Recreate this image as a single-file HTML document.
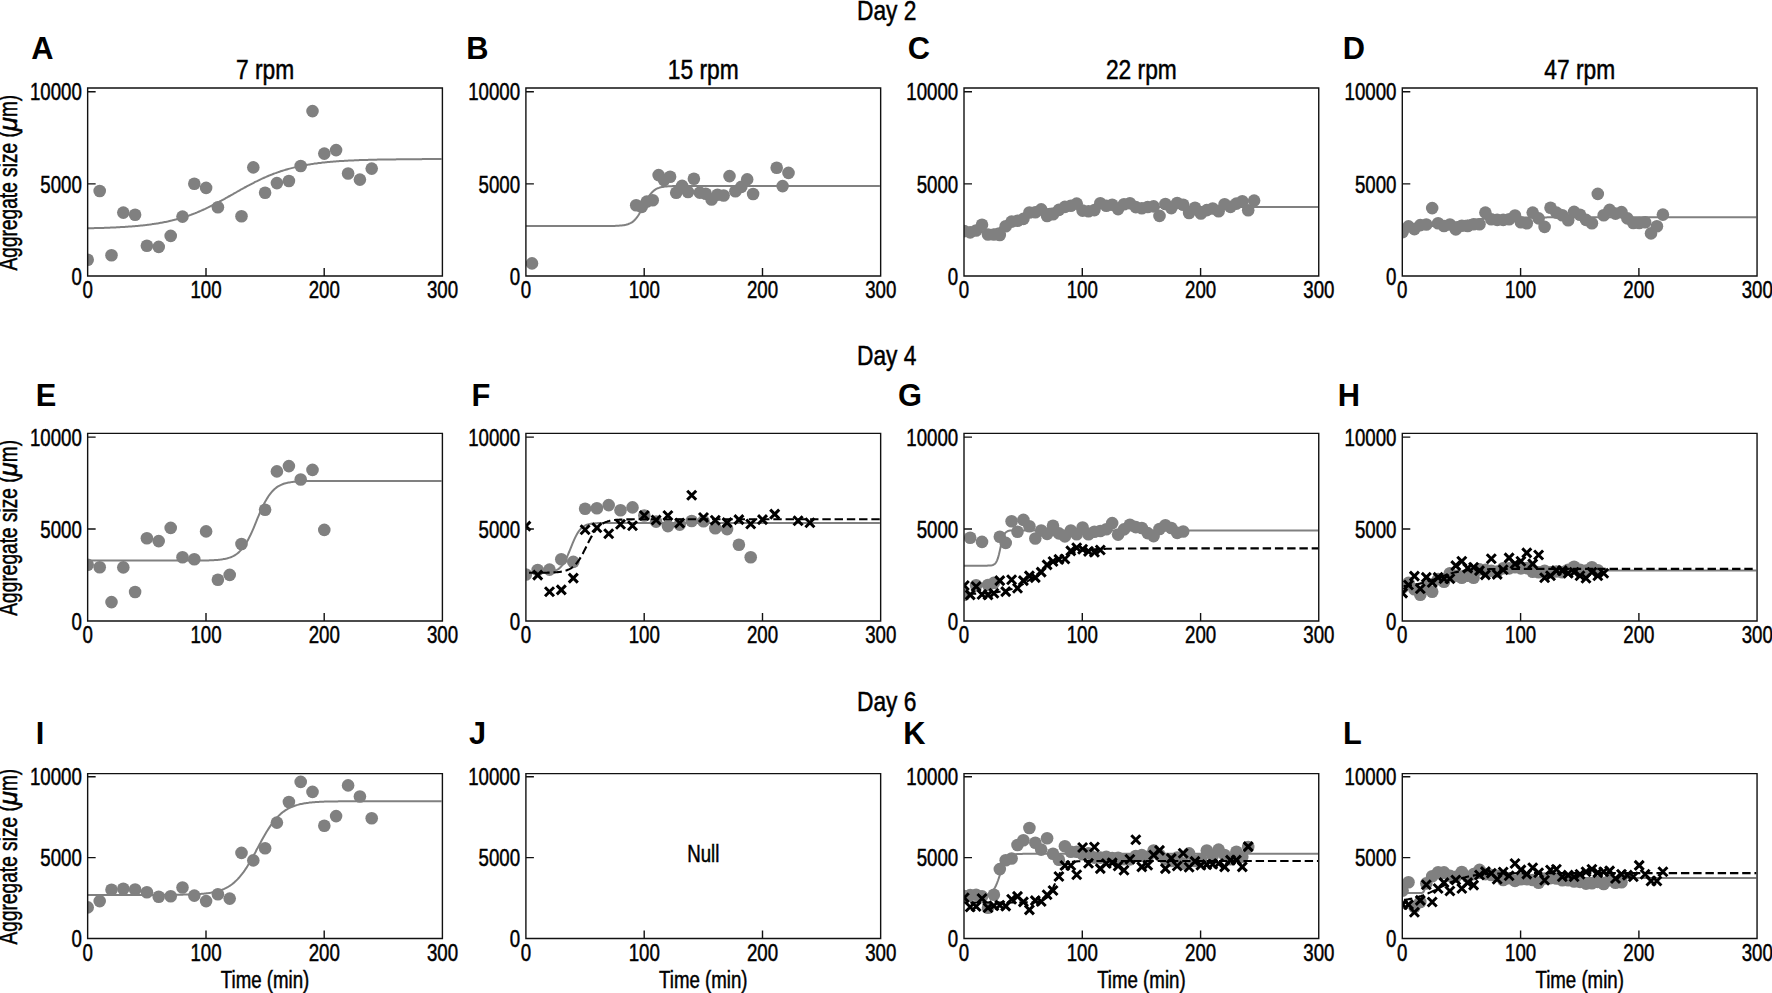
<!DOCTYPE html>
<html lang="en"><head><meta charset="utf-8"><title>Aggregate size vs time</title>
<style>html,body{margin:0;padding:0;background:#fff}svg{display:block}</style></head>
<body>
<svg width="1772" height="993" viewBox="0 0 1772 993" font-family='"Liberation Sans", sans-serif' fill="#000">
<rect width="1772" height="993" fill="#fff"/>
<defs>
<clipPath id="cA"><rect x="87.65" y="88.0" width="354.75" height="188.0"/></clipPath>
<clipPath id="cB"><rect x="525.9" y="88.0" width="354.75" height="188.0"/></clipPath>
<clipPath id="cC"><rect x="964.0" y="88.0" width="354.75" height="188.0"/></clipPath>
<clipPath id="cD"><rect x="1402.3" y="88.0" width="354.75" height="188.0"/></clipPath>
<clipPath id="cE"><rect x="87.65" y="433.4" width="354.75" height="187.6"/></clipPath>
<clipPath id="cF"><rect x="525.9" y="433.4" width="354.75" height="187.6"/></clipPath>
<clipPath id="cG"><rect x="964.0" y="433.4" width="354.75" height="187.6"/></clipPath>
<clipPath id="cH"><rect x="1402.3" y="433.4" width="354.75" height="187.6"/></clipPath>
<clipPath id="cI"><rect x="87.65" y="773.6" width="354.75" height="164.9"/></clipPath>
<clipPath id="cJ"><rect x="525.9" y="773.6" width="354.75" height="164.9"/></clipPath>
<clipPath id="cK"><rect x="964.0" y="773.6" width="354.75" height="164.9"/></clipPath>
<clipPath id="cL"><rect x="1402.3" y="773.6" width="354.75" height="164.9"/></clipPath>
<path id="xm" d="M-4.5 -4.5L4.5 4.5M-4.5 4.5L4.5 -4.5" stroke="#000" stroke-width="3" fill="none"/>
</defs>
<text transform="translate(886.70 19.80) scale(0.805 1)" font-size="28.3" text-anchor="middle" stroke="#000" stroke-width="0.5">Day 2</text>
<text transform="translate(886.70 365.20) scale(0.805 1)" font-size="28.3" text-anchor="middle" stroke="#000" stroke-width="0.5">Day 4</text>
<text transform="translate(886.70 710.50) scale(0.805 1)" font-size="28.3" text-anchor="middle" stroke="#000" stroke-width="0.5">Day 6</text>
<text transform="translate(265.02 78.50) scale(0.805 1)" font-size="28.3" text-anchor="middle" stroke="#000" stroke-width="0.5">7 rpm</text>
<text transform="translate(703.27 78.50) scale(0.805 1)" font-size="28.3" text-anchor="middle" stroke="#000" stroke-width="0.5">15 rpm</text>
<text transform="translate(1141.38 78.50) scale(0.805 1)" font-size="28.3" text-anchor="middle" stroke="#000" stroke-width="0.5">22 rpm</text>
<text transform="translate(1579.67 78.50) scale(0.805 1)" font-size="28.3" text-anchor="middle" stroke="#000" stroke-width="0.5">47 rpm</text>
<g id="pA">
<g clip-path="url(#cA)">
<path d="M87.7 228.3 L88.7 228.3 L89.7 228.2 L90.7 228.2 L91.7 228.2 L92.7 228.2 L93.7 228.2 L94.7 228.1 L95.7 228.1 L96.7 228.1 L97.7 228.1 L98.7 228.0 L99.7 228.0 L100.7 228.0 L101.7 227.9 L102.7 227.9 L103.7 227.9 L104.7 227.8 L105.7 227.8 L106.7 227.8 L107.7 227.7 L108.7 227.7 L109.7 227.7 L110.7 227.6 L111.7 227.6 L112.7 227.5 L113.7 227.5 L114.7 227.4 L115.7 227.4 L116.7 227.3 L117.7 227.3 L118.7 227.2 L119.7 227.2 L120.7 227.1 L121.7 227.1 L122.7 227.0 L123.7 227.0 L124.7 226.9 L125.7 226.8 L126.7 226.8 L127.7 226.7 L128.7 226.6 L129.7 226.6 L130.7 226.5 L131.7 226.4 L132.7 226.3 L133.7 226.2 L134.7 226.2 L135.7 226.1 L136.7 226.0 L137.7 225.9 L138.7 225.8 L139.7 225.7 L140.7 225.6 L141.7 225.5 L142.7 225.4 L143.7 225.3 L144.7 225.2 L145.7 225.1 L146.7 224.9 L147.7 224.8 L148.7 224.7 L149.7 224.6 L150.7 224.4 L151.7 224.3 L152.7 224.1 L153.7 224.0 L154.7 223.8 L155.7 223.7 L156.7 223.5 L157.7 223.4 L158.7 223.2 L159.7 223.0 L160.7 222.8 L161.7 222.7 L162.7 222.5 L163.7 222.3 L164.7 222.1 L165.7 221.9 L166.7 221.7 L167.7 221.5 L168.7 221.2 L169.7 221.0 L170.7 220.8 L171.7 220.6 L172.7 220.3 L173.7 220.1 L174.7 219.8 L175.7 219.6 L176.7 219.3 L177.7 219.0 L178.7 218.7 L179.7 218.5 L180.7 218.2 L181.7 217.9 L182.7 217.6 L183.7 217.2 L184.7 216.9 L185.7 216.6 L186.7 216.3 L187.7 215.9 L188.7 215.6 L189.7 215.2 L190.7 214.9 L191.7 214.5 L192.7 214.1 L193.7 213.7 L194.7 213.4 L195.7 213.0 L196.7 212.6 L197.7 212.1 L198.7 211.7 L199.7 211.3 L200.7 210.9 L201.7 210.4 L202.7 210.0 L203.7 209.5 L204.7 209.1 L205.7 208.6 L206.7 208.1 L207.7 207.7 L208.7 207.2 L209.7 206.7 L210.7 206.2 L211.7 205.7 L212.7 205.2 L213.7 204.7 L214.7 204.2 L215.7 203.6 L216.7 203.1 L217.7 202.6 L218.7 202.1 L219.7 201.5 L220.7 201.0 L221.7 200.4 L222.7 199.9 L223.7 199.3 L224.7 198.8 L225.7 198.2 L226.7 197.7 L227.7 197.1 L228.7 196.5 L229.7 196.0 L230.7 195.4 L231.7 194.8 L232.7 194.3 L233.7 193.7 L234.7 193.1 L235.7 192.6 L236.7 192.0 L237.7 191.4 L238.7 190.9 L239.7 190.3 L240.7 189.7 L241.7 189.2 L242.7 188.6 L243.7 188.1 L244.7 187.5 L245.7 187.0 L246.7 186.4 L247.7 185.9 L248.7 185.4 L249.7 184.8 L250.7 184.3 L251.7 183.8 L252.7 183.3 L253.7 182.8 L254.7 182.2 L255.7 181.7 L256.6 181.3 L257.6 180.8 L258.6 180.3 L259.6 179.8 L260.6 179.3 L261.6 178.9 L262.6 178.4 L263.6 178.0 L264.6 177.5 L265.6 177.1 L266.6 176.6 L267.6 176.2 L268.6 175.8 L269.6 175.4 L270.6 175.0 L271.6 174.6 L272.6 174.2 L273.6 173.8 L274.6 173.4 L275.6 173.1 L276.6 172.7 L277.6 172.4 L278.6 172.0 L279.6 171.7 L280.6 171.3 L281.6 171.0 L282.6 170.7 L283.6 170.4 L284.6 170.1 L285.6 169.8 L286.6 169.5 L287.6 169.2 L288.6 168.9 L289.6 168.6 L290.6 168.4 L291.6 168.1 L292.6 167.9 L293.6 167.6 L294.6 167.4 L295.6 167.1 L296.6 166.9 L297.6 166.7 L298.6 166.5 L299.6 166.2 L300.6 166.0 L301.6 165.8 L302.6 165.6 L303.6 165.4 L304.6 165.3 L305.6 165.1 L306.6 164.9 L307.6 164.7 L308.6 164.6 L309.6 164.4 L310.6 164.2 L311.6 164.1 L312.6 163.9 L313.6 163.8 L314.6 163.6 L315.6 163.5 L316.6 163.4 L317.6 163.2 L318.6 163.1 L319.6 163.0 L320.6 162.9 L321.6 162.7 L322.6 162.6 L323.6 162.5 L324.6 162.4 L325.6 162.3 L326.6 162.2 L327.6 162.1 L328.6 162.0 L329.6 161.9 L330.6 161.8 L331.6 161.7 L332.6 161.7 L333.6 161.6 L334.6 161.5 L335.6 161.4 L336.6 161.3 L337.6 161.3 L338.6 161.2 L339.6 161.1 L340.6 161.1 L341.6 161.0 L342.6 160.9 L343.6 160.9 L344.6 160.8 L345.6 160.8 L346.6 160.7 L347.6 160.7 L348.6 160.6 L349.6 160.6 L350.6 160.5 L351.6 160.5 L352.6 160.4 L353.6 160.4 L354.6 160.3 L355.6 160.3 L356.6 160.2 L357.6 160.2 L358.6 160.2 L359.6 160.1 L360.6 160.1 L361.6 160.1 L362.6 160.0 L363.6 160.0 L364.6 160.0 L365.6 159.9 L366.6 159.9 L367.6 159.9 L368.6 159.8 L369.6 159.8 L370.6 159.8 L371.6 159.8 L372.6 159.7 L373.6 159.7 L374.6 159.7 L375.6 159.7 L376.6 159.7 L377.6 159.6 L378.6 159.6 L379.6 159.6 L380.6 159.6 L381.6 159.6 L382.6 159.5 L383.6 159.5 L384.6 159.5 L385.6 159.5 L386.6 159.5 L387.6 159.5 L388.6 159.4 L389.6 159.4 L390.6 159.4 L391.6 159.4 L392.6 159.4 L393.6 159.4 L394.6 159.4 L395.6 159.4 L396.6 159.3 L397.6 159.3 L398.6 159.3 L399.6 159.3 L400.6 159.3 L401.6 159.3 L402.6 159.3 L403.6 159.3 L404.6 159.3 L405.6 159.3 L406.6 159.2 L407.6 159.2 L408.6 159.2 L409.6 159.2 L410.6 159.2 L411.6 159.2 L412.6 159.2 L413.6 159.2 L414.6 159.2 L415.6 159.2 L416.6 159.2 L417.6 159.2 L418.6 159.2 L419.6 159.2 L420.6 159.2 L421.6 159.2 L422.6 159.1 L423.6 159.1 L424.6 159.1 L425.6 159.1 L426.6 159.1 L427.6 159.1 L428.6 159.1 L429.6 159.1 L430.6 159.1 L431.6 159.1 L432.6 159.1 L433.6 159.1 L434.6 159.1 L435.6 159.1 L436.6 159.1 L437.6 159.1 L438.6 159.1 L439.6 159.1 L440.6 159.1 L441.6 159.1" fill="none" stroke="#808080" stroke-width="2"/>
<g fill="#808080"><circle cx="87.7" cy="259.7" r="6.3"/><circle cx="99.7" cy="191.0" r="6.3"/><circle cx="111.5" cy="255.3" r="6.3"/><circle cx="123.3" cy="212.6" r="6.3"/><circle cx="135.1" cy="214.8" r="6.3"/><circle cx="146.9" cy="245.7" r="6.3"/><circle cx="158.7" cy="246.9" r="6.3"/><circle cx="170.7" cy="235.9" r="6.3"/><circle cx="182.5" cy="216.6" r="6.3"/><circle cx="194.3" cy="183.7" r="6.3"/><circle cx="206.1" cy="187.9" r="6.3"/><circle cx="217.9" cy="207.3" r="6.3"/><circle cx="241.5" cy="216.2" r="6.3"/><circle cx="253.3" cy="167.4" r="6.3"/><circle cx="265.1" cy="192.8" r="6.3"/><circle cx="276.9" cy="183.1" r="6.3"/><circle cx="288.9" cy="181.0" r="6.3"/><circle cx="300.7" cy="166.0" r="6.3"/><circle cx="312.5" cy="111.1" r="6.3"/><circle cx="324.3" cy="153.6" r="6.3"/><circle cx="336.1" cy="150.1" r="6.3"/><circle cx="348.1" cy="173.5" r="6.3"/><circle cx="359.9" cy="179.6" r="6.3"/><circle cx="371.7" cy="168.6" r="6.3"/></g>
</g>
<path d="M87.65 88.0H442.4V276.0H87.65ZM87.65 91.8h8.0M87.65 183.9h8.0M206.0 276.0v-8.0M324.2 276.0v-8.0" fill="none" stroke="#111" stroke-width="1.4"/>
<text transform="translate(87.65 298.10) scale(0.765 1)" font-size="24.4" text-anchor="middle" stroke="#000" stroke-width="0.5">0</text>
<text transform="translate(205.95 298.10) scale(0.765 1)" font-size="24.4" text-anchor="middle" stroke="#000" stroke-width="0.5">100</text>
<text transform="translate(324.25 298.10) scale(0.765 1)" font-size="24.4" text-anchor="middle" stroke="#000" stroke-width="0.5">200</text>
<text transform="translate(442.55 298.10) scale(0.765 1)" font-size="24.4" text-anchor="middle" stroke="#000" stroke-width="0.5">300</text>
<text transform="translate(81.85 284.60) scale(0.765 1)" font-size="24.4" text-anchor="end" stroke="#000" stroke-width="0.5">0</text>
<text transform="translate(81.85 192.53) scale(0.765 1)" font-size="24.4" text-anchor="end" stroke="#000" stroke-width="0.5">5000</text>
<text transform="translate(81.85 100.45) scale(0.765 1)" font-size="24.4" text-anchor="end" stroke="#000" stroke-width="0.5">10000</text>
<text x="31.20" y="58.8" font-size="30.8" font-weight="bold">A</text>
<text transform="translate(17.4 182.6) rotate(-90) scale(0.765 1)" font-size="25.0" text-anchor="middle" stroke="#000" stroke-width="0.5">Aggregate size (<tspan font-style="italic" textLength="18.5" lengthAdjust="spacingAndGlyphs">μ</tspan>m)</text>
</g>
<g id="pB">
<g clip-path="url(#cB)">
<path d="M525.9 226.0 L526.9 226.0 L527.9 226.0 L528.9 226.0 L529.9 226.0 L530.9 226.0 L531.9 226.0 L532.9 226.0 L533.9 226.0 L534.9 226.0 L535.9 226.0 L536.9 226.0 L537.9 226.0 L538.9 226.0 L539.9 226.0 L540.9 226.0 L541.9 226.0 L542.9 226.0 L543.9 226.0 L544.9 226.0 L545.9 226.0 L546.9 226.0 L547.9 226.0 L548.9 226.0 L549.9 226.0 L550.9 226.0 L551.9 226.0 L552.9 226.0 L553.9 226.0 L554.9 226.0 L555.9 226.0 L556.9 226.0 L557.9 226.0 L558.9 226.0 L559.9 226.0 L560.9 226.0 L561.9 226.0 L562.9 226.0 L563.9 226.0 L564.9 226.0 L565.9 226.0 L566.9 226.0 L567.9 226.0 L568.9 226.0 L569.9 226.0 L570.9 226.0 L571.9 226.0 L572.9 226.0 L573.9 226.0 L574.9 226.0 L575.9 226.0 L576.9 226.0 L577.9 226.0 L578.9 226.0 L579.9 226.0 L580.9 226.0 L581.9 226.0 L582.9 226.0 L583.9 226.0 L584.9 226.0 L585.9 226.0 L586.9 226.0 L587.9 226.0 L588.9 226.0 L589.9 226.0 L590.9 226.0 L591.9 226.0 L592.9 226.0 L593.9 226.0 L594.9 226.0 L595.9 226.0 L596.9 226.0 L597.9 226.0 L598.9 226.0 L599.9 226.0 L600.9 226.0 L601.9 226.0 L602.9 226.0 L603.9 226.0 L604.9 226.0 L605.9 226.0 L606.9 226.0 L607.9 226.0 L608.9 226.0 L609.9 225.9 L610.9 225.9 L611.9 225.9 L612.9 225.9 L613.9 225.9 L614.9 225.9 L615.9 225.8 L616.9 225.8 L617.9 225.7 L618.9 225.7 L619.9 225.6 L620.9 225.5 L621.9 225.4 L622.9 225.3 L623.9 225.2 L624.9 225.0 L625.9 224.8 L626.9 224.5 L627.9 224.2 L628.9 223.8 L629.9 223.4 L630.9 222.9 L631.9 222.3 L632.9 221.6 L633.9 220.7 L634.9 219.7 L635.9 218.6 L636.9 217.4 L637.9 216.0 L638.9 214.5 L639.9 212.8 L640.9 211.0 L641.9 209.1 L642.9 207.2 L643.9 205.2 L644.9 203.3 L645.9 201.4 L646.9 199.6 L647.9 197.9 L648.9 196.3 L649.9 194.9 L650.9 193.6 L651.9 192.5 L652.9 191.5 L653.9 190.6 L654.9 189.9 L655.9 189.2 L656.9 188.7 L657.9 188.2 L658.9 187.9 L659.9 187.5 L660.9 187.3 L661.9 187.1 L662.9 186.9 L663.9 186.7 L664.9 186.6 L665.9 186.5 L666.9 186.4 L667.9 186.3 L668.9 186.3 L669.9 186.2 L670.9 186.2 L671.9 186.2 L672.9 186.1 L673.9 186.1 L674.9 186.1 L675.9 186.1 L676.9 186.1 L677.9 186.0 L678.9 186.0 L679.9 186.0 L680.9 186.0 L681.9 186.0 L682.9 186.0 L683.9 186.0 L684.9 186.0 L685.9 186.0 L686.9 186.0 L687.9 186.0 L688.9 186.0 L689.9 186.0 L690.9 186.0 L691.9 186.0 L692.9 186.0 L693.9 186.0 L694.9 186.0 L695.9 186.0 L696.9 186.0 L697.9 186.0 L698.9 186.0 L699.9 186.0 L700.9 186.0 L701.9 186.0 L702.9 186.0 L703.9 186.0 L704.9 186.0 L705.9 186.0 L706.9 186.0 L707.9 186.0 L708.9 186.0 L709.9 186.0 L710.9 186.0 L711.9 186.0 L712.9 186.0 L713.9 186.0 L714.9 186.0 L715.9 186.0 L716.9 186.0 L717.9 186.0 L718.9 186.0 L719.9 186.0 L720.9 186.0 L721.9 186.0 L722.9 186.0 L723.9 186.0 L724.9 186.0 L725.9 186.0 L726.9 186.0 L727.9 186.0 L728.9 186.0 L729.9 186.0 L730.9 186.0 L731.9 186.0 L732.9 186.0 L733.9 186.0 L734.9 186.0 L735.9 186.0 L736.9 186.0 L737.9 186.0 L738.9 186.0 L739.9 186.0 L740.9 186.0 L741.9 186.0 L742.9 186.0 L743.9 186.0 L744.9 186.0 L745.9 186.0 L746.9 186.0 L747.9 186.0 L748.9 186.0 L749.9 186.0 L750.9 186.0 L751.9 186.0 L752.9 186.0 L753.9 186.0 L754.9 186.0 L755.9 186.0 L756.9 186.0 L757.9 186.0 L758.9 186.0 L759.9 186.0 L760.9 186.0 L761.9 186.0 L762.9 186.0 L763.9 186.0 L764.9 186.0 L765.9 186.0 L766.9 186.0 L767.9 186.0 L768.9 186.0 L769.9 186.0 L770.9 186.0 L771.9 186.0 L772.9 186.0 L773.9 186.0 L774.9 186.0 L775.9 186.0 L776.9 186.0 L777.9 186.0 L778.9 186.0 L779.9 186.0 L780.9 186.0 L781.9 186.0 L782.9 186.0 L783.9 186.0 L784.9 186.0 L785.9 186.0 L786.9 186.0 L787.9 186.0 L788.9 186.0 L789.9 186.0 L790.9 186.0 L791.9 186.0 L792.9 186.0 L793.9 186.0 L794.9 186.0 L795.9 186.0 L796.9 186.0 L797.9 186.0 L798.9 186.0 L799.9 186.0 L800.9 186.0 L801.9 186.0 L802.9 186.0 L803.9 186.0 L804.9 186.0 L805.9 186.0 L806.9 186.0 L807.9 186.0 L808.9 186.0 L809.9 186.0 L810.9 186.0 L811.9 186.0 L812.9 186.0 L813.9 186.0 L814.9 186.0 L815.9 186.0 L816.9 186.0 L817.9 186.0 L818.9 186.0 L819.9 186.0 L820.9 186.0 L821.9 186.0 L822.9 186.0 L823.9 186.0 L824.9 186.0 L825.9 186.0 L826.9 186.0 L827.9 186.0 L828.9 186.0 L829.9 186.0 L830.9 186.0 L831.9 186.0 L832.9 186.0 L833.9 186.0 L834.9 186.0 L835.9 186.0 L836.9 186.0 L837.9 186.0 L838.9 186.0 L839.9 186.0 L840.9 186.0 L841.9 186.0 L842.9 186.0 L843.9 186.0 L844.9 186.0 L845.9 186.0 L846.9 186.0 L847.9 186.0 L848.9 186.0 L849.9 186.0 L850.9 186.0 L851.9 186.0 L852.9 186.0 L853.9 186.0 L854.9 186.0 L855.9 186.0 L856.9 186.0 L857.9 186.0 L858.9 186.0 L859.9 186.0 L860.9 186.0 L861.9 186.0 L862.9 186.0 L863.9 186.0 L864.9 186.0 L865.9 186.0 L866.9 186.0 L867.9 186.0 L868.9 186.0 L869.9 186.0 L870.9 186.0 L871.9 186.0 L872.9 186.0 L873.9 186.0 L874.9 186.0 L875.9 186.0 L876.9 186.0 L877.9 186.0 L878.9 186.0 L879.9 186.0" fill="none" stroke="#808080" stroke-width="2"/>
<g fill="#808080"><circle cx="532.0" cy="263.4" r="6.3"/><circle cx="636.2" cy="205.2" r="6.3"/><circle cx="641.7" cy="206.9" r="6.3"/><circle cx="646.8" cy="201.6" r="6.3"/><circle cx="652.7" cy="200.3" r="6.3"/><circle cx="658.6" cy="175.1" r="6.3"/><circle cx="664.0" cy="180.0" r="6.3"/><circle cx="670.1" cy="176.8" r="6.3"/><circle cx="676.2" cy="192.8" r="6.3"/><circle cx="682.1" cy="185.9" r="6.3"/><circle cx="688.0" cy="192.0" r="6.3"/><circle cx="693.9" cy="178.8" r="6.3"/><circle cx="699.8" cy="192.6" r="6.3"/><circle cx="705.7" cy="193.8" r="6.3"/><circle cx="711.6" cy="199.5" r="6.3"/><circle cx="717.5" cy="194.7" r="6.3"/><circle cx="723.6" cy="195.5" r="6.3"/><circle cx="729.5" cy="176.1" r="6.3"/><circle cx="735.4" cy="191.2" r="6.3"/><circle cx="741.3" cy="186.9" r="6.3"/><circle cx="747.2" cy="179.4" r="6.3"/><circle cx="753.1" cy="194.0" r="6.3"/><circle cx="776.7" cy="167.8" r="6.3"/><circle cx="782.6" cy="186.1" r="6.3"/><circle cx="788.5" cy="172.9" r="6.3"/></g>
</g>
<path d="M525.9 88.0H880.65V276.0H525.9ZM525.9 91.8h8.0M525.9 183.9h8.0M644.2 276.0v-8.0M762.5 276.0v-8.0" fill="none" stroke="#111" stroke-width="1.4"/>
<text transform="translate(525.90 298.10) scale(0.765 1)" font-size="24.4" text-anchor="middle" stroke="#000" stroke-width="0.5">0</text>
<text transform="translate(644.20 298.10) scale(0.765 1)" font-size="24.4" text-anchor="middle" stroke="#000" stroke-width="0.5">100</text>
<text transform="translate(762.50 298.10) scale(0.765 1)" font-size="24.4" text-anchor="middle" stroke="#000" stroke-width="0.5">200</text>
<text transform="translate(880.80 298.10) scale(0.765 1)" font-size="24.4" text-anchor="middle" stroke="#000" stroke-width="0.5">300</text>
<text transform="translate(520.10 284.60) scale(0.765 1)" font-size="24.4" text-anchor="end" stroke="#000" stroke-width="0.5">0</text>
<text transform="translate(520.10 192.53) scale(0.765 1)" font-size="24.4" text-anchor="end" stroke="#000" stroke-width="0.5">5000</text>
<text transform="translate(520.10 100.45) scale(0.765 1)" font-size="24.4" text-anchor="end" stroke="#000" stroke-width="0.5">10000</text>
<text x="466.25" y="58.8" font-size="30.8" font-weight="bold">B</text>
</g>
<g id="pC">
<g clip-path="url(#cC)">
<path d="M964.0 233.1 L965.0 233.0 L966.0 233.0 L967.0 232.9 L968.0 232.9 L969.0 232.9 L970.0 232.8 L971.0 232.7 L972.0 232.7 L973.0 232.6 L974.0 232.6 L975.0 232.5 L976.0 232.4 L977.0 232.3 L978.0 232.2 L979.0 232.1 L980.0 232.0 L981.0 231.9 L982.0 231.8 L983.0 231.7 L984.0 231.6 L985.0 231.4 L986.0 231.3 L987.0 231.1 L988.0 230.9 L989.0 230.7 L990.0 230.5 L991.0 230.3 L992.0 230.1 L993.0 229.9 L994.0 229.6 L995.0 229.4 L996.0 229.1 L997.0 228.8 L998.0 228.5 L999.0 228.2 L1000.0 227.8 L1001.0 227.5 L1002.0 227.1 L1003.0 226.7 L1004.0 226.3 L1005.0 225.9 L1006.0 225.5 L1007.0 225.1 L1008.0 224.6 L1009.0 224.2 L1010.0 223.7 L1011.0 223.2 L1012.0 222.7 L1013.0 222.2 L1014.0 221.7 L1015.0 221.2 L1016.0 220.7 L1017.0 220.2 L1018.0 219.7 L1019.0 219.2 L1020.0 218.7 L1021.0 218.2 L1022.0 217.7 L1023.0 217.2 L1024.0 216.7 L1025.0 216.2 L1026.0 215.8 L1027.0 215.3 L1028.0 214.9 L1029.0 214.5 L1030.0 214.1 L1031.0 213.7 L1032.0 213.3 L1033.0 212.9 L1034.0 212.6 L1035.0 212.2 L1036.0 211.9 L1037.0 211.6 L1038.0 211.3 L1039.0 211.0 L1040.0 210.8 L1041.0 210.5 L1042.0 210.3 L1043.0 210.1 L1044.0 209.9 L1045.0 209.7 L1046.0 209.5 L1047.0 209.3 L1048.0 209.1 L1049.0 209.0 L1050.0 208.8 L1051.0 208.7 L1052.0 208.6 L1053.0 208.5 L1054.0 208.4 L1055.0 208.3 L1056.0 208.2 L1057.0 208.1 L1058.0 208.0 L1059.0 207.9 L1060.0 207.8 L1061.0 207.8 L1062.0 207.7 L1063.0 207.7 L1064.0 207.6 L1065.0 207.5 L1066.0 207.5 L1067.0 207.5 L1068.0 207.4 L1069.0 207.4 L1070.0 207.3 L1071.0 207.3 L1072.0 207.3 L1073.0 207.3 L1074.0 207.2 L1075.0 207.2 L1076.0 207.2 L1077.0 207.2 L1078.0 207.1 L1079.0 207.1 L1080.0 207.1 L1081.0 207.1 L1082.0 207.1 L1083.0 207.1 L1084.0 207.1 L1085.0 207.0 L1086.0 207.0 L1087.0 207.0 L1088.0 207.0 L1089.0 207.0 L1090.0 207.0 L1091.0 207.0 L1092.0 207.0 L1093.0 207.0 L1094.0 207.0 L1095.0 207.0 L1096.0 207.0 L1097.0 207.0 L1098.0 207.0 L1099.0 206.9 L1100.0 206.9 L1101.0 206.9 L1102.0 206.9 L1103.0 206.9 L1104.0 206.9 L1105.0 206.9 L1106.0 206.9 L1107.0 206.9 L1108.0 206.9 L1109.0 206.9 L1110.0 206.9 L1111.0 206.9 L1112.0 206.9 L1113.0 206.9 L1114.0 206.9 L1115.0 206.9 L1116.0 206.9 L1117.0 206.9 L1118.0 206.9 L1119.0 206.9 L1120.0 206.9 L1121.0 206.9 L1122.0 206.9 L1123.0 206.9 L1124.0 206.9 L1125.0 206.9 L1126.0 206.9 L1127.0 206.9 L1128.0 206.9 L1129.0 206.9 L1130.0 206.9 L1131.0 206.9 L1132.0 206.9 L1133.0 206.9 L1134.0 206.9 L1135.0 206.9 L1136.0 206.9 L1137.0 206.9 L1138.0 206.9 L1139.0 206.9 L1140.0 206.9 L1141.0 206.9 L1142.0 206.9 L1143.0 206.9 L1144.0 206.9 L1145.0 206.9 L1146.0 206.9 L1147.0 206.9 L1148.0 206.9 L1149.0 206.9 L1150.0 206.9 L1151.0 206.9 L1152.0 206.9 L1153.0 206.9 L1154.0 206.9 L1155.0 206.9 L1156.0 206.9 L1157.0 206.9 L1158.0 206.9 L1159.0 206.9 L1160.0 206.9 L1161.0 206.9 L1162.0 206.9 L1163.0 206.9 L1164.0 206.9 L1165.0 206.9 L1166.0 206.9 L1167.0 206.9 L1168.0 206.9 L1169.0 206.9 L1170.0 206.9 L1171.0 206.9 L1172.0 206.9 L1173.0 206.9 L1174.0 206.9 L1175.0 206.9 L1176.0 206.9 L1177.0 206.9 L1178.0 206.9 L1179.0 206.9 L1180.0 206.9 L1181.0 206.9 L1182.0 206.9 L1183.0 206.9 L1184.0 206.9 L1185.0 206.9 L1186.0 206.9 L1187.0 206.9 L1188.0 206.9 L1189.0 206.9 L1190.0 206.9 L1191.0 206.9 L1192.0 206.9 L1193.0 206.9 L1194.0 206.9 L1195.0 206.9 L1196.0 206.9 L1197.0 206.9 L1198.0 206.9 L1199.0 206.9 L1200.0 206.9 L1201.0 206.9 L1202.0 206.9 L1203.0 206.9 L1204.0 206.9 L1205.0 206.9 L1206.0 206.9 L1207.0 206.9 L1208.0 206.9 L1209.0 206.9 L1210.0 206.9 L1211.0 206.9 L1212.0 206.9 L1213.0 206.9 L1214.0 206.9 L1215.0 206.9 L1216.0 206.9 L1217.0 206.9 L1218.0 206.9 L1219.0 206.9 L1220.0 206.9 L1221.0 206.9 L1222.0 206.9 L1223.0 206.9 L1224.0 206.9 L1225.0 206.9 L1226.0 206.9 L1227.0 206.9 L1228.0 206.9 L1229.0 206.9 L1230.0 206.9 L1231.0 206.9 L1232.0 206.9 L1233.0 206.9 L1234.0 206.9 L1235.0 206.9 L1236.0 206.9 L1237.0 206.9 L1238.0 206.9 L1239.0 206.9 L1240.0 206.9 L1241.0 206.9 L1242.0 206.9 L1243.0 206.9 L1244.0 206.9 L1245.0 206.9 L1246.0 206.9 L1247.0 206.9 L1248.0 206.9 L1249.0 206.9 L1250.0 206.9 L1251.0 206.9 L1252.0 206.9 L1253.0 206.9 L1254.0 206.9 L1255.0 206.9 L1256.0 206.9 L1257.0 206.9 L1258.0 206.9 L1259.0 206.9 L1260.0 206.9 L1261.0 206.9 L1262.0 206.9 L1263.0 206.9 L1264.0 206.9 L1265.0 206.9 L1266.0 206.9 L1267.0 206.9 L1268.0 206.9 L1269.0 206.9 L1270.0 206.9 L1271.0 206.9 L1272.0 206.9 L1273.0 206.9 L1274.0 206.9 L1275.0 206.9 L1276.0 206.9 L1277.0 206.9 L1278.0 206.9 L1279.0 206.9 L1280.0 206.9 L1281.0 206.9 L1282.0 206.9 L1283.0 206.9 L1284.0 206.9 L1285.0 206.9 L1286.0 206.9 L1287.0 206.9 L1288.0 206.9 L1289.0 206.9 L1290.0 206.9 L1291.0 206.9 L1292.0 206.9 L1293.0 206.9 L1294.0 206.9 L1295.0 206.9 L1296.0 206.9 L1297.0 206.9 L1298.0 206.9 L1299.0 206.9 L1300.0 206.9 L1301.0 206.9 L1302.0 206.9 L1303.0 206.9 L1304.0 206.9 L1305.0 206.9 L1306.0 206.9 L1307.0 206.9 L1308.0 206.9 L1309.0 206.9 L1310.0 206.9 L1311.0 206.9 L1312.0 206.9 L1313.0 206.9 L1314.0 206.9 L1315.0 206.9 L1316.0 206.9 L1317.0 206.9 L1318.0 206.9" fill="none" stroke="#808080" stroke-width="2"/>
<g fill="#808080"><circle cx="964.3" cy="231.1" r="6.3"/><circle cx="970.2" cy="232.4" r="6.3"/><circle cx="976.1" cy="230.5" r="6.3"/><circle cx="982.0" cy="224.7" r="6.3"/><circle cx="988.0" cy="234.5" r="6.3"/><circle cx="993.9" cy="234.5" r="6.3"/><circle cx="999.8" cy="235.0" r="6.3"/><circle cx="1005.7" cy="226.2" r="6.3"/><circle cx="1011.6" cy="221.6" r="6.3"/><circle cx="1017.5" cy="220.7" r="6.3"/><circle cx="1023.4" cy="218.9" r="6.3"/><circle cx="1029.4" cy="212.5" r="6.3"/><circle cx="1035.3" cy="212.2" r="6.3"/><circle cx="1041.2" cy="209.4" r="6.3"/><circle cx="1047.1" cy="216.0" r="6.3"/><circle cx="1053.0" cy="214.2" r="6.3"/><circle cx="1058.9" cy="209.9" r="6.3"/><circle cx="1064.9" cy="206.9" r="6.3"/><circle cx="1070.8" cy="205.8" r="6.3"/><circle cx="1076.7" cy="203.6" r="6.3"/><circle cx="1082.6" cy="210.6" r="6.3"/><circle cx="1088.5" cy="211.3" r="6.3"/><circle cx="1094.4" cy="210.1" r="6.3"/><circle cx="1100.3" cy="203.3" r="6.3"/><circle cx="1106.3" cy="205.8" r="6.3"/><circle cx="1112.2" cy="204.8" r="6.3"/><circle cx="1118.1" cy="209.1" r="6.3"/><circle cx="1124.0" cy="204.3" r="6.3"/><circle cx="1129.9" cy="203.3" r="6.3"/><circle cx="1135.8" cy="207.1" r="6.3"/><circle cx="1141.8" cy="208.2" r="6.3"/><circle cx="1147.7" cy="207.0" r="6.3"/><circle cx="1153.6" cy="206.4" r="6.3"/><circle cx="1159.5" cy="215.9" r="6.3"/><circle cx="1165.4" cy="204.0" r="6.3"/><circle cx="1171.3" cy="208.1" r="6.3"/><circle cx="1177.2" cy="203.0" r="6.3"/><circle cx="1183.2" cy="204.8" r="6.3"/><circle cx="1189.1" cy="213.0" r="6.3"/><circle cx="1195.0" cy="207.7" r="6.3"/><circle cx="1200.9" cy="213.5" r="6.3"/><circle cx="1206.8" cy="210.1" r="6.3"/><circle cx="1212.7" cy="208.5" r="6.3"/><circle cx="1218.6" cy="211.3" r="6.3"/><circle cx="1224.6" cy="204.3" r="6.3"/><circle cx="1230.5" cy="206.9" r="6.3"/><circle cx="1236.4" cy="203.6" r="6.3"/><circle cx="1242.3" cy="201.3" r="6.3"/><circle cx="1248.2" cy="210.3" r="6.3"/><circle cx="1254.1" cy="200.6" r="6.3"/></g>
</g>
<path d="M964.0 88.0H1318.75V276.0H964.0ZM964.0 91.8h8.0M964.0 183.9h8.0M1082.3 276.0v-8.0M1200.6 276.0v-8.0" fill="none" stroke="#111" stroke-width="1.4"/>
<text transform="translate(964.00 298.10) scale(0.765 1)" font-size="24.4" text-anchor="middle" stroke="#000" stroke-width="0.5">0</text>
<text transform="translate(1082.30 298.10) scale(0.765 1)" font-size="24.4" text-anchor="middle" stroke="#000" stroke-width="0.5">100</text>
<text transform="translate(1200.60 298.10) scale(0.765 1)" font-size="24.4" text-anchor="middle" stroke="#000" stroke-width="0.5">200</text>
<text transform="translate(1318.90 298.10) scale(0.765 1)" font-size="24.4" text-anchor="middle" stroke="#000" stroke-width="0.5">300</text>
<text transform="translate(958.20 284.60) scale(0.765 1)" font-size="24.4" text-anchor="end" stroke="#000" stroke-width="0.5">0</text>
<text transform="translate(958.20 192.53) scale(0.765 1)" font-size="24.4" text-anchor="end" stroke="#000" stroke-width="0.5">5000</text>
<text transform="translate(958.20 100.45) scale(0.765 1)" font-size="24.4" text-anchor="end" stroke="#000" stroke-width="0.5">10000</text>
<text x="907.75" y="58.8" font-size="30.8" font-weight="bold">C</text>
</g>
<g id="pD">
<g clip-path="url(#cD)">
<path d="M1402.3 228.5 L1403.3 228.5 L1404.3 228.4 L1405.3 228.4 L1406.3 228.3 L1407.3 228.3 L1408.3 228.2 L1409.3 228.2 L1410.3 228.1 L1411.3 228.1 L1412.3 228.0 L1413.3 227.9 L1414.3 227.9 L1415.3 227.8 L1416.3 227.7 L1417.3 227.6 L1418.3 227.6 L1419.3 227.5 L1420.3 227.4 L1421.3 227.3 L1422.3 227.2 L1423.3 227.1 L1424.3 227.0 L1425.3 226.9 L1426.3 226.8 L1427.3 226.6 L1428.3 226.5 L1429.3 226.4 L1430.3 226.3 L1431.3 226.2 L1432.3 226.0 L1433.3 225.9 L1434.3 225.7 L1435.3 225.6 L1436.3 225.5 L1437.3 225.3 L1438.3 225.2 L1439.3 225.0 L1440.3 224.8 L1441.3 224.7 L1442.3 224.5 L1443.3 224.4 L1444.3 224.2 L1445.3 224.0 L1446.3 223.9 L1447.3 223.7 L1448.3 223.5 L1449.3 223.4 L1450.3 223.2 L1451.3 223.0 L1452.3 222.8 L1453.3 222.7 L1454.3 222.5 L1455.3 222.3 L1456.3 222.2 L1457.3 222.0 L1458.3 221.9 L1459.3 221.7 L1460.3 221.5 L1461.3 221.4 L1462.3 221.2 L1463.3 221.1 L1464.3 220.9 L1465.3 220.8 L1466.3 220.7 L1467.3 220.5 L1468.3 220.4 L1469.3 220.3 L1470.3 220.1 L1471.3 220.0 L1472.3 219.9 L1473.3 219.8 L1474.3 219.7 L1475.3 219.6 L1476.3 219.5 L1477.3 219.4 L1478.3 219.3 L1479.3 219.2 L1480.3 219.1 L1481.3 219.0 L1482.3 218.9 L1483.3 218.9 L1484.3 218.8 L1485.3 218.7 L1486.3 218.6 L1487.3 218.6 L1488.3 218.5 L1489.3 218.5 L1490.3 218.4 L1491.3 218.3 L1492.3 218.3 L1493.3 218.2 L1494.3 218.2 L1495.3 218.1 L1496.3 218.1 L1497.3 218.1 L1498.3 218.0 L1499.3 218.0 L1500.3 217.9 L1501.3 217.9 L1502.3 217.9 L1503.3 217.9 L1504.3 217.8 L1505.3 217.8 L1506.3 217.8 L1507.3 217.7 L1508.3 217.7 L1509.3 217.7 L1510.3 217.7 L1511.3 217.7 L1512.3 217.6 L1513.3 217.6 L1514.3 217.6 L1515.3 217.6 L1516.3 217.6 L1517.3 217.6 L1518.3 217.5 L1519.3 217.5 L1520.3 217.5 L1521.3 217.5 L1522.3 217.5 L1523.3 217.5 L1524.3 217.5 L1525.3 217.5 L1526.3 217.5 L1527.3 217.4 L1528.3 217.4 L1529.3 217.4 L1530.3 217.4 L1531.3 217.4 L1532.3 217.4 L1533.3 217.4 L1534.3 217.4 L1535.3 217.4 L1536.3 217.4 L1537.3 217.4 L1538.3 217.4 L1539.3 217.4 L1540.3 217.4 L1541.3 217.4 L1542.3 217.4 L1543.3 217.4 L1544.3 217.4 L1545.3 217.4 L1546.3 217.4 L1547.3 217.3 L1548.3 217.3 L1549.3 217.3 L1550.3 217.3 L1551.3 217.3 L1552.3 217.3 L1553.3 217.3 L1554.3 217.3 L1555.3 217.3 L1556.3 217.3 L1557.3 217.3 L1558.3 217.3 L1559.3 217.3 L1560.3 217.3 L1561.3 217.3 L1562.3 217.3 L1563.3 217.3 L1564.3 217.3 L1565.3 217.3 L1566.3 217.3 L1567.3 217.3 L1568.3 217.3 L1569.3 217.3 L1570.3 217.3 L1571.3 217.3 L1572.3 217.3 L1573.3 217.3 L1574.3 217.3 L1575.3 217.3 L1576.3 217.3 L1577.3 217.3 L1578.3 217.3 L1579.3 217.3 L1580.3 217.3 L1581.3 217.3 L1582.3 217.3 L1583.3 217.3 L1584.3 217.3 L1585.3 217.3 L1586.3 217.3 L1587.3 217.3 L1588.3 217.3 L1589.3 217.3 L1590.3 217.3 L1591.3 217.3 L1592.3 217.3 L1593.3 217.3 L1594.3 217.3 L1595.3 217.3 L1596.3 217.3 L1597.3 217.3 L1598.3 217.3 L1599.3 217.3 L1600.3 217.3 L1601.3 217.3 L1602.3 217.3 L1603.3 217.3 L1604.3 217.3 L1605.3 217.3 L1606.3 217.3 L1607.3 217.3 L1608.3 217.3 L1609.3 217.3 L1610.3 217.3 L1611.3 217.3 L1612.3 217.3 L1613.3 217.3 L1614.3 217.3 L1615.3 217.3 L1616.3 217.3 L1617.3 217.3 L1618.3 217.3 L1619.3 217.3 L1620.3 217.3 L1621.3 217.3 L1622.3 217.3 L1623.3 217.3 L1624.3 217.3 L1625.3 217.3 L1626.3 217.3 L1627.3 217.3 L1628.3 217.3 L1629.3 217.3 L1630.3 217.3 L1631.3 217.3 L1632.3 217.3 L1633.3 217.3 L1634.3 217.3 L1635.3 217.3 L1636.3 217.3 L1637.3 217.3 L1638.3 217.3 L1639.3 217.3 L1640.3 217.3 L1641.3 217.3 L1642.3 217.3 L1643.3 217.3 L1644.3 217.3 L1645.3 217.3 L1646.3 217.3 L1647.3 217.3 L1648.3 217.3 L1649.3 217.3 L1650.3 217.3 L1651.3 217.3 L1652.3 217.3 L1653.3 217.3 L1654.3 217.3 L1655.3 217.3 L1656.3 217.3 L1657.3 217.3 L1658.3 217.3 L1659.3 217.3 L1660.3 217.3 L1661.3 217.3 L1662.3 217.3 L1663.3 217.3 L1664.3 217.3 L1665.3 217.3 L1666.3 217.3 L1667.3 217.3 L1668.3 217.3 L1669.3 217.3 L1670.3 217.3 L1671.3 217.3 L1672.3 217.3 L1673.3 217.3 L1674.3 217.3 L1675.3 217.3 L1676.3 217.3 L1677.3 217.3 L1678.3 217.3 L1679.3 217.3 L1680.3 217.3 L1681.3 217.3 L1682.3 217.3 L1683.3 217.3 L1684.3 217.3 L1685.3 217.3 L1686.3 217.3 L1687.3 217.3 L1688.3 217.3 L1689.3 217.3 L1690.3 217.3 L1691.3 217.3 L1692.3 217.3 L1693.3 217.3 L1694.3 217.3 L1695.3 217.3 L1696.3 217.3 L1697.3 217.3 L1698.3 217.3 L1699.3 217.3 L1700.3 217.3 L1701.3 217.3 L1702.3 217.3 L1703.3 217.3 L1704.3 217.3 L1705.3 217.3 L1706.3 217.3 L1707.3 217.3 L1708.3 217.3 L1709.3 217.3 L1710.3 217.3 L1711.3 217.3 L1712.3 217.3 L1713.3 217.3 L1714.3 217.3 L1715.3 217.3 L1716.3 217.3 L1717.3 217.3 L1718.3 217.3 L1719.3 217.3 L1720.3 217.3 L1721.3 217.3 L1722.3 217.3 L1723.3 217.3 L1724.3 217.3 L1725.3 217.3 L1726.3 217.3 L1727.3 217.3 L1728.3 217.3 L1729.3 217.3 L1730.3 217.3 L1731.3 217.3 L1732.3 217.3 L1733.3 217.3 L1734.3 217.3 L1735.3 217.3 L1736.3 217.3 L1737.3 217.3 L1738.3 217.3 L1739.3 217.3 L1740.3 217.3 L1741.3 217.3 L1742.3 217.3 L1743.3 217.3 L1744.3 217.3 L1745.3 217.3 L1746.3 217.3 L1747.3 217.3 L1748.3 217.3 L1749.3 217.3 L1750.3 217.3 L1751.3 217.3 L1752.3 217.3 L1753.3 217.3 L1754.3 217.3 L1755.3 217.3 L1756.3 217.3" fill="none" stroke="#808080" stroke-width="2"/>
<g fill="#808080"><circle cx="1402.6" cy="232.1" r="6.3"/><circle cx="1408.5" cy="226.4" r="6.3"/><circle cx="1414.4" cy="229.1" r="6.3"/><circle cx="1420.3" cy="225.1" r="6.3"/><circle cx="1426.3" cy="224.5" r="6.3"/><circle cx="1432.2" cy="208.1" r="6.3"/><circle cx="1438.1" cy="223.3" r="6.3"/><circle cx="1444.0" cy="226.0" r="6.3"/><circle cx="1449.9" cy="224.5" r="6.3"/><circle cx="1455.8" cy="229.4" r="6.3"/><circle cx="1461.8" cy="225.7" r="6.3"/><circle cx="1467.7" cy="226.0" r="6.3"/><circle cx="1473.6" cy="224.3" r="6.3"/><circle cx="1479.5" cy="224.3" r="6.3"/><circle cx="1485.4" cy="212.6" r="6.3"/><circle cx="1491.3" cy="219.2" r="6.3"/><circle cx="1497.2" cy="219.9" r="6.3"/><circle cx="1503.2" cy="219.9" r="6.3"/><circle cx="1509.1" cy="219.2" r="6.3"/><circle cx="1515.0" cy="215.5" r="6.3"/><circle cx="1520.9" cy="222.3" r="6.3"/><circle cx="1526.8" cy="223.3" r="6.3"/><circle cx="1532.7" cy="212.6" r="6.3"/><circle cx="1538.6" cy="218.4" r="6.3"/><circle cx="1544.6" cy="226.9" r="6.3"/><circle cx="1550.5" cy="207.8" r="6.3"/><circle cx="1556.4" cy="212.6" r="6.3"/><circle cx="1562.3" cy="215.2" r="6.3"/><circle cx="1568.2" cy="220.3" r="6.3"/><circle cx="1574.1" cy="211.9" r="6.3"/><circle cx="1580.0" cy="214.7" r="6.3"/><circle cx="1586.0" cy="219.9" r="6.3"/><circle cx="1591.9" cy="223.3" r="6.3"/><circle cx="1597.8" cy="193.9" r="6.3"/><circle cx="1603.7" cy="215.3" r="6.3"/><circle cx="1609.6" cy="209.9" r="6.3"/><circle cx="1615.5" cy="213.6" r="6.3"/><circle cx="1621.5" cy="212.1" r="6.3"/><circle cx="1627.4" cy="218.4" r="6.3"/><circle cx="1633.3" cy="223.0" r="6.3"/><circle cx="1639.2" cy="223.0" r="6.3"/><circle cx="1645.1" cy="222.2" r="6.3"/><circle cx="1651.0" cy="233.4" r="6.3"/><circle cx="1656.9" cy="226.3" r="6.3"/><circle cx="1662.9" cy="214.6" r="6.3"/></g>
</g>
<path d="M1402.3 88.0H1757.05V276.0H1402.3ZM1402.3 91.8h8.0M1402.3 183.9h8.0M1520.6 276.0v-8.0M1638.9 276.0v-8.0" fill="none" stroke="#111" stroke-width="1.4"/>
<text transform="translate(1402.30 298.10) scale(0.765 1)" font-size="24.4" text-anchor="middle" stroke="#000" stroke-width="0.5">0</text>
<text transform="translate(1520.60 298.10) scale(0.765 1)" font-size="24.4" text-anchor="middle" stroke="#000" stroke-width="0.5">100</text>
<text transform="translate(1638.90 298.10) scale(0.765 1)" font-size="24.4" text-anchor="middle" stroke="#000" stroke-width="0.5">200</text>
<text transform="translate(1757.20 298.10) scale(0.765 1)" font-size="24.4" text-anchor="middle" stroke="#000" stroke-width="0.5">300</text>
<text transform="translate(1396.50 284.60) scale(0.765 1)" font-size="24.4" text-anchor="end" stroke="#000" stroke-width="0.5">0</text>
<text transform="translate(1396.50 192.53) scale(0.765 1)" font-size="24.4" text-anchor="end" stroke="#000" stroke-width="0.5">5000</text>
<text transform="translate(1396.50 100.45) scale(0.765 1)" font-size="24.4" text-anchor="end" stroke="#000" stroke-width="0.5">10000</text>
<text x="1342.75" y="58.8" font-size="30.8" font-weight="bold">D</text>
</g>
<g id="pE">
<g clip-path="url(#cE)">
<path d="M87.7 560.6 L88.7 560.6 L89.7 560.6 L90.7 560.6 L91.7 560.6 L92.7 560.6 L93.7 560.6 L94.7 560.6 L95.7 560.6 L96.7 560.6 L97.7 560.6 L98.7 560.6 L99.7 560.6 L100.7 560.6 L101.7 560.6 L102.7 560.6 L103.7 560.6 L104.7 560.6 L105.7 560.6 L106.7 560.6 L107.7 560.6 L108.7 560.6 L109.7 560.6 L110.7 560.6 L111.7 560.6 L112.7 560.6 L113.7 560.6 L114.7 560.6 L115.7 560.6 L116.7 560.6 L117.7 560.6 L118.7 560.6 L119.7 560.6 L120.7 560.6 L121.7 560.6 L122.7 560.6 L123.7 560.6 L124.7 560.6 L125.7 560.6 L126.7 560.6 L127.7 560.6 L128.7 560.6 L129.7 560.6 L130.7 560.6 L131.7 560.6 L132.7 560.6 L133.7 560.6 L134.7 560.6 L135.7 560.6 L136.7 560.6 L137.7 560.6 L138.7 560.6 L139.7 560.6 L140.7 560.6 L141.7 560.6 L142.7 560.6 L143.7 560.6 L144.7 560.6 L145.7 560.6 L146.7 560.6 L147.7 560.6 L148.7 560.6 L149.7 560.6 L150.7 560.6 L151.7 560.6 L152.7 560.6 L153.7 560.6 L154.7 560.6 L155.7 560.6 L156.7 560.6 L157.7 560.6 L158.7 560.6 L159.7 560.6 L160.7 560.6 L161.7 560.6 L162.7 560.6 L163.7 560.6 L164.7 560.6 L165.7 560.6 L166.7 560.6 L167.7 560.6 L168.7 560.6 L169.7 560.6 L170.7 560.6 L171.7 560.6 L172.7 560.6 L173.7 560.6 L174.7 560.6 L175.7 560.6 L176.7 560.6 L177.7 560.6 L178.7 560.6 L179.7 560.6 L180.7 560.6 L181.7 560.6 L182.7 560.6 L183.7 560.6 L184.7 560.6 L185.7 560.6 L186.7 560.6 L187.7 560.6 L188.7 560.6 L189.7 560.6 L190.7 560.6 L191.7 560.6 L192.7 560.6 L193.7 560.6 L194.7 560.6 L195.7 560.5 L196.7 560.5 L197.7 560.5 L198.7 560.5 L199.7 560.5 L200.7 560.5 L201.7 560.5 L202.7 560.5 L203.7 560.5 L204.7 560.4 L205.7 560.4 L206.7 560.4 L207.7 560.4 L208.7 560.4 L209.7 560.3 L210.7 560.3 L211.7 560.2 L212.7 560.2 L213.7 560.2 L214.7 560.1 L215.7 560.0 L216.7 560.0 L217.7 559.9 L218.7 559.8 L219.7 559.7 L220.7 559.6 L221.7 559.4 L222.7 559.3 L223.7 559.1 L224.7 558.9 L225.7 558.7 L226.7 558.5 L227.7 558.2 L228.7 557.9 L229.7 557.6 L230.7 557.3 L231.7 556.8 L232.7 556.4 L233.7 555.9 L234.7 555.3 L235.7 554.7 L236.7 554.0 L237.7 553.2 L238.7 552.4 L239.7 551.4 L240.7 550.4 L241.7 549.3 L242.7 548.1 L243.7 546.8 L244.7 545.3 L245.7 543.8 L246.7 542.1 L247.7 540.4 L248.7 538.5 L249.7 536.5 L250.7 534.5 L251.7 532.3 L252.7 530.1 L253.7 527.8 L254.7 525.4 L255.7 523.0 L256.6 520.6 L257.6 518.2 L258.6 515.9 L259.6 513.5 L260.6 511.2 L261.6 509.0 L262.6 506.8 L263.6 504.8 L264.6 502.8 L265.6 500.9 L266.6 499.2 L267.6 497.6 L268.6 496.0 L269.6 494.6 L270.6 493.3 L271.6 492.1 L272.6 491.0 L273.6 490.0 L274.6 489.0 L275.6 488.2 L276.6 487.4 L277.6 486.7 L278.6 486.1 L279.6 485.6 L280.6 485.1 L281.6 484.6 L282.6 484.2 L283.6 483.8 L284.6 483.5 L285.6 483.2 L286.6 483.0 L287.6 482.7 L288.6 482.5 L289.6 482.4 L290.6 482.2 L291.6 482.1 L292.6 481.9 L293.6 481.8 L294.6 481.7 L295.6 481.6 L296.6 481.5 L297.6 481.5 L298.6 481.4 L299.6 481.3 L300.6 481.3 L301.6 481.2 L302.6 481.2 L303.6 481.2 L304.6 481.1 L305.6 481.1 L306.6 481.1 L307.6 481.1 L308.6 481.1 L309.6 481.0 L310.6 481.0 L311.6 481.0 L312.6 481.0 L313.6 481.0 L314.6 481.0 L315.6 481.0 L316.6 481.0 L317.6 481.0 L318.6 480.9 L319.6 480.9 L320.6 480.9 L321.6 480.9 L322.6 480.9 L323.6 480.9 L324.6 480.9 L325.6 480.9 L326.6 480.9 L327.6 480.9 L328.6 480.9 L329.6 480.9 L330.6 480.9 L331.6 480.9 L332.6 480.9 L333.6 480.9 L334.6 480.9 L335.6 480.9 L336.6 480.9 L337.6 480.9 L338.6 480.9 L339.6 480.9 L340.6 480.9 L341.6 480.9 L342.6 480.9 L343.6 480.9 L344.6 480.9 L345.6 480.9 L346.6 480.9 L347.6 480.9 L348.6 480.9 L349.6 480.9 L350.6 480.9 L351.6 480.9 L352.6 480.9 L353.6 480.9 L354.6 480.9 L355.6 480.9 L356.6 480.9 L357.6 480.9 L358.6 480.9 L359.6 480.9 L360.6 480.9 L361.6 480.9 L362.6 480.9 L363.6 480.9 L364.6 480.9 L365.6 480.9 L366.6 480.9 L367.6 480.9 L368.6 480.9 L369.6 480.9 L370.6 480.9 L371.6 480.9 L372.6 480.9 L373.6 480.9 L374.6 480.9 L375.6 480.9 L376.6 480.9 L377.6 480.9 L378.6 480.9 L379.6 480.9 L380.6 480.9 L381.6 480.9 L382.6 480.9 L383.6 480.9 L384.6 480.9 L385.6 480.9 L386.6 480.9 L387.6 480.9 L388.6 480.9 L389.6 480.9 L390.6 480.9 L391.6 480.9 L392.6 480.9 L393.6 480.9 L394.6 480.9 L395.6 480.9 L396.6 480.9 L397.6 480.9 L398.6 480.9 L399.6 480.9 L400.6 480.9 L401.6 480.9 L402.6 480.9 L403.6 480.9 L404.6 480.9 L405.6 480.9 L406.6 480.9 L407.6 480.9 L408.6 480.9 L409.6 480.9 L410.6 480.9 L411.6 480.9 L412.6 480.9 L413.6 480.9 L414.6 480.9 L415.6 480.9 L416.6 480.9 L417.6 480.9 L418.6 480.9 L419.6 480.9 L420.6 480.9 L421.6 480.9 L422.6 480.9 L423.6 480.9 L424.6 480.9 L425.6 480.9 L426.6 480.9 L427.6 480.9 L428.6 480.9 L429.6 480.9 L430.6 480.9 L431.6 480.9 L432.6 480.9 L433.6 480.9 L434.6 480.9 L435.6 480.9 L436.6 480.9 L437.6 480.9 L438.6 480.9 L439.6 480.9 L440.6 480.9 L441.6 480.9" fill="none" stroke="#808080" stroke-width="2"/>
<g fill="#808080"><circle cx="87.7" cy="564.7" r="6.3"/><circle cx="99.7" cy="567.2" r="6.3"/><circle cx="111.5" cy="602.1" r="6.3"/><circle cx="123.3" cy="567.4" r="6.3"/><circle cx="135.1" cy="592.0" r="6.3"/><circle cx="146.9" cy="538.3" r="6.3"/><circle cx="158.7" cy="541.1" r="6.3"/><circle cx="170.7" cy="527.9" r="6.3"/><circle cx="182.5" cy="557.2" r="6.3"/><circle cx="194.3" cy="559.2" r="6.3"/><circle cx="206.1" cy="531.4" r="6.3"/><circle cx="217.9" cy="579.8" r="6.3"/><circle cx="229.7" cy="574.9" r="6.3"/><circle cx="241.5" cy="544.0" r="6.3"/><circle cx="265.1" cy="509.8" r="6.3"/><circle cx="276.9" cy="471.4" r="6.3"/><circle cx="288.9" cy="466.1" r="6.3"/><circle cx="300.7" cy="479.5" r="6.3"/><circle cx="312.5" cy="469.9" r="6.3"/><circle cx="324.3" cy="529.9" r="6.3"/></g>
</g>
<path d="M87.65 433.4H442.4V621.0H87.65ZM87.65 437.1h8.0M87.65 529.0h8.0M206.0 621.0v-8.0M324.2 621.0v-8.0" fill="none" stroke="#111" stroke-width="1.4"/>
<text transform="translate(87.65 643.10) scale(0.765 1)" font-size="24.4" text-anchor="middle" stroke="#000" stroke-width="0.5">0</text>
<text transform="translate(205.95 643.10) scale(0.765 1)" font-size="24.4" text-anchor="middle" stroke="#000" stroke-width="0.5">100</text>
<text transform="translate(324.25 643.10) scale(0.765 1)" font-size="24.4" text-anchor="middle" stroke="#000" stroke-width="0.5">200</text>
<text transform="translate(442.55 643.10) scale(0.765 1)" font-size="24.4" text-anchor="middle" stroke="#000" stroke-width="0.5">300</text>
<text transform="translate(81.85 629.60) scale(0.765 1)" font-size="24.4" text-anchor="end" stroke="#000" stroke-width="0.5">0</text>
<text transform="translate(81.85 537.65) scale(0.765 1)" font-size="24.4" text-anchor="end" stroke="#000" stroke-width="0.5">5000</text>
<text transform="translate(81.85 445.70) scale(0.765 1)" font-size="24.4" text-anchor="end" stroke="#000" stroke-width="0.5">10000</text>
<text x="35.75" y="405.8" font-size="30.8" font-weight="bold">E</text>
<text transform="translate(17.4 527.8) rotate(-90) scale(0.765 1)" font-size="25.0" text-anchor="middle" stroke="#000" stroke-width="0.5">Aggregate size (<tspan font-style="italic" textLength="18.5" lengthAdjust="spacingAndGlyphs">μ</tspan>m)</text>
</g>
<g id="pF">
<g clip-path="url(#cF)">
<path d="M525.9 572.8 L526.9 572.8 L527.9 572.8 L528.9 572.8 L529.9 572.8 L530.9 572.8 L531.9 572.8 L532.9 572.8 L533.9 572.8 L534.9 572.8 L535.9 572.8 L536.9 572.7 L537.9 572.7 L538.9 572.7 L539.9 572.7 L540.9 572.7 L541.9 572.6 L542.9 572.6 L543.9 572.6 L544.9 572.5 L545.9 572.5 L546.9 572.4 L547.9 572.3 L548.9 572.2 L549.9 572.0 L550.9 571.9 L551.9 571.7 L552.9 571.4 L553.9 571.2 L554.9 570.8 L555.9 570.4 L556.9 569.9 L557.9 569.3 L558.9 568.6 L559.9 567.7 L560.9 566.7 L561.9 565.6 L562.9 564.3 L563.9 562.8 L564.9 561.1 L565.9 559.2 L566.9 557.1 L567.9 554.9 L568.9 552.5 L569.9 550.1 L570.9 547.6 L571.9 545.1 L572.9 542.7 L573.9 540.4 L574.9 538.2 L575.9 536.1 L576.9 534.3 L577.9 532.6 L578.9 531.1 L579.9 529.9 L580.9 528.7 L581.9 527.8 L582.9 527.0 L583.9 526.3 L584.9 525.7 L585.9 525.2 L586.9 524.8 L587.9 524.5 L588.9 524.2 L589.9 524.0 L590.9 523.8 L591.9 523.6 L592.9 523.5 L593.9 523.4 L594.9 523.3 L595.9 523.2 L596.9 523.2 L597.9 523.1 L598.9 523.1 L599.9 523.0 L600.9 523.0 L601.9 523.0 L602.9 523.0 L603.9 523.0 L604.9 523.0 L605.9 522.9 L606.9 522.9 L607.9 522.9 L608.9 522.9 L609.9 522.9 L610.9 522.9 L611.9 522.9 L612.9 522.9 L613.9 522.9 L614.9 522.9 L615.9 522.9 L616.9 522.9 L617.9 522.9 L618.9 522.9 L619.9 522.9 L620.9 522.9 L621.9 522.9 L622.9 522.9 L623.9 522.9 L624.9 522.9 L625.9 522.9 L626.9 522.9 L627.9 522.9 L628.9 522.9 L629.9 522.9 L630.9 522.9 L631.9 522.9 L632.9 522.9 L633.9 522.9 L634.9 522.9 L635.9 522.9 L636.9 522.9 L637.9 522.9 L638.9 522.9 L639.9 522.9 L640.9 522.9 L641.9 522.9 L642.9 522.9 L643.9 522.9 L644.9 522.9 L645.9 522.9 L646.9 522.9 L647.9 522.9 L648.9 522.9 L649.9 522.9 L650.9 522.9 L651.9 522.9 L652.9 522.9 L653.9 522.9 L654.9 522.9 L655.9 522.9 L656.9 522.9 L657.9 522.9 L658.9 522.9 L659.9 522.9 L660.9 522.9 L661.9 522.9 L662.9 522.9 L663.9 522.9 L664.9 522.9 L665.9 522.9 L666.9 522.9 L667.9 522.9 L668.9 522.9 L669.9 522.9 L670.9 522.9 L671.9 522.9 L672.9 522.9 L673.9 522.9 L674.9 522.9 L675.9 522.9 L676.9 522.9 L677.9 522.9 L678.9 522.9 L679.9 522.9 L680.9 522.9 L681.9 522.9 L682.9 522.9 L683.9 522.9 L684.9 522.9 L685.9 522.9 L686.9 522.9 L687.9 522.9 L688.9 522.9 L689.9 522.9 L690.9 522.9 L691.9 522.9 L692.9 522.9 L693.9 522.9 L694.9 522.9 L695.9 522.9 L696.9 522.9 L697.9 522.9 L698.9 522.9 L699.9 522.9 L700.9 522.9 L701.9 522.9 L702.9 522.9 L703.9 522.9 L704.9 522.9 L705.9 522.9 L706.9 522.9 L707.9 522.9 L708.9 522.9 L709.9 522.9 L710.9 522.9 L711.9 522.9 L712.9 522.9 L713.9 522.9 L714.9 522.9 L715.9 522.9 L716.9 522.9 L717.9 522.9 L718.9 522.9 L719.9 522.9 L720.9 522.9 L721.9 522.9 L722.9 522.9 L723.9 522.9 L724.9 522.9 L725.9 522.9 L726.9 522.9 L727.9 522.9 L728.9 522.9 L729.9 522.9 L730.9 522.9 L731.9 522.9 L732.9 522.9 L733.9 522.9 L734.9 522.9 L735.9 522.9 L736.9 522.9 L737.9 522.9 L738.9 522.9 L739.9 522.9 L740.9 522.9 L741.9 522.9 L742.9 522.9 L743.9 522.9 L744.9 522.9 L745.9 522.9 L746.9 522.9 L747.9 522.9 L748.9 522.9 L749.9 522.9 L750.9 522.9 L751.9 522.9 L752.9 522.9 L753.9 522.9 L754.9 522.9 L755.9 522.9 L756.9 522.9 L757.9 522.9 L758.9 522.9 L759.9 522.9 L760.9 522.9 L761.9 522.9 L762.9 522.9 L763.9 522.9 L764.9 522.9 L765.9 522.9 L766.9 522.9 L767.9 522.9 L768.9 522.9 L769.9 522.9 L770.9 522.9 L771.9 522.9 L772.9 522.9 L773.9 522.9 L774.9 522.9 L775.9 522.9 L776.9 522.9 L777.9 522.9 L778.9 522.9 L779.9 522.9 L780.9 522.9 L781.9 522.9 L782.9 522.9 L783.9 522.9 L784.9 522.9 L785.9 522.9 L786.9 522.9 L787.9 522.9 L788.9 522.9 L789.9 522.9 L790.9 522.9 L791.9 522.9 L792.9 522.9 L793.9 522.9 L794.9 522.9 L795.9 522.9 L796.9 522.9 L797.9 522.9 L798.9 522.9 L799.9 522.9 L800.9 522.9 L801.9 522.9 L802.9 522.9 L803.9 522.9 L804.9 522.9 L805.9 522.9 L806.9 522.9 L807.9 522.9 L808.9 522.9 L809.9 522.9 L810.9 522.9 L811.9 522.9 L812.9 522.9 L813.9 522.9 L814.9 522.9 L815.9 522.9 L816.9 522.9 L817.9 522.9 L818.9 522.9 L819.9 522.9 L820.9 522.9 L821.9 522.9 L822.9 522.9 L823.9 522.9 L824.9 522.9 L825.9 522.9 L826.9 522.9 L827.9 522.9 L828.9 522.9 L829.9 522.9 L830.9 522.9 L831.9 522.9 L832.9 522.9 L833.9 522.9 L834.9 522.9 L835.9 522.9 L836.9 522.9 L837.9 522.9 L838.9 522.9 L839.9 522.9 L840.9 522.9 L841.9 522.9 L842.9 522.9 L843.9 522.9 L844.9 522.9 L845.9 522.9 L846.9 522.9 L847.9 522.9 L848.9 522.9 L849.9 522.9 L850.9 522.9 L851.9 522.9 L852.9 522.9 L853.9 522.9 L854.9 522.9 L855.9 522.9 L856.9 522.9 L857.9 522.9 L858.9 522.9 L859.9 522.9 L860.9 522.9 L861.9 522.9 L862.9 522.9 L863.9 522.9 L864.9 522.9 L865.9 522.9 L866.9 522.9 L867.9 522.9 L868.9 522.9 L869.9 522.9 L870.9 522.9 L871.9 522.9 L872.9 522.9 L873.9 522.9 L874.9 522.9 L875.9 522.9 L876.9 522.9 L877.9 522.9 L878.9 522.9 L879.9 522.9" fill="none" stroke="#808080" stroke-width="2"/>
<g fill="#808080"><circle cx="525.9" cy="574.5" r="6.3"/><circle cx="537.7" cy="570.0" r="6.3"/><circle cx="549.5" cy="569.6" r="6.3"/><circle cx="561.3" cy="559.2" r="6.3"/><circle cx="573.3" cy="561.9" r="6.3"/><circle cx="585.1" cy="508.8" r="6.3"/><circle cx="596.9" cy="508.2" r="6.3"/><circle cx="608.7" cy="505.1" r="6.3"/><circle cx="620.5" cy="510.2" r="6.3"/><circle cx="632.5" cy="507.4" r="6.3"/><circle cx="644.3" cy="515.5" r="6.3"/><circle cx="656.1" cy="521.6" r="6.3"/><circle cx="667.9" cy="526.1" r="6.3"/><circle cx="679.7" cy="524.6" r="6.3"/><circle cx="691.7" cy="521.0" r="6.3"/><circle cx="703.5" cy="521.2" r="6.3"/><circle cx="715.3" cy="528.3" r="6.3"/><circle cx="727.1" cy="529.1" r="6.3"/><circle cx="738.9" cy="544.8" r="6.3"/><circle cx="750.7" cy="557.2" r="6.3"/></g>
<path d="M525.9 572.8 L526.9 572.8 L527.9 572.8 L528.9 572.8 L529.9 572.8 L530.9 572.8 L531.9 572.8 L532.9 572.8 L533.9 572.8 L534.9 572.8 L535.9 572.8 L536.9 572.8 L537.9 572.8 L538.9 572.8 L539.9 572.8 L540.9 572.7 L541.9 572.7 L542.9 572.7 L543.9 572.7 L544.9 572.7 L545.9 572.7 L546.9 572.7 L547.9 572.6 L548.9 572.6 L549.9 572.6 L550.9 572.6 L551.9 572.5 L552.9 572.5 L553.9 572.4 L554.9 572.4 L555.9 572.3 L556.9 572.2 L557.9 572.1 L558.9 572.0 L559.9 571.9 L560.9 571.7 L561.9 571.6 L562.9 571.4 L563.9 571.1 L564.9 570.9 L565.9 570.6 L566.9 570.2 L567.9 569.8 L568.9 569.4 L569.9 568.9 L570.9 568.3 L571.9 567.6 L572.9 566.8 L573.9 566.0 L574.9 565.0 L575.9 564.0 L576.9 562.8 L577.9 561.5 L578.9 560.1 L579.9 558.6 L580.9 556.9 L581.9 555.2 L582.9 553.4 L583.9 551.4 L584.9 549.5 L585.9 547.5 L586.9 545.4 L587.9 543.4 L588.9 541.4 L589.9 539.5 L590.9 537.6 L591.9 535.9 L592.9 534.2 L593.9 532.6 L594.9 531.1 L595.9 529.8 L596.9 528.6 L597.9 527.5 L598.9 526.5 L599.9 525.6 L600.9 524.8 L601.9 524.1 L602.9 523.5 L603.9 522.9 L604.9 522.4 L605.9 522.0 L606.9 521.7 L607.9 521.3 L608.9 521.1 L609.9 520.8 L610.9 520.6 L611.9 520.4 L612.9 520.3 L613.9 520.1 L614.9 520.0 L615.9 519.9 L616.9 519.8 L617.9 519.8 L618.9 519.7 L619.9 519.6 L620.9 519.6 L621.9 519.6 L622.9 519.5 L623.9 519.5 L624.9 519.5 L625.9 519.4 L626.9 519.4 L627.9 519.4 L628.9 519.4 L629.9 519.4 L630.9 519.4 L631.9 519.4 L632.9 519.3 L633.9 519.3 L634.9 519.3 L635.9 519.3 L636.9 519.3 L637.9 519.3 L638.9 519.3 L639.9 519.3 L640.9 519.3 L641.9 519.3 L642.9 519.3 L643.9 519.3 L644.9 519.3 L645.9 519.3 L646.9 519.3 L647.9 519.3 L648.9 519.3 L649.9 519.3 L650.9 519.3 L651.9 519.3 L652.9 519.3 L653.9 519.3 L654.9 519.3 L655.9 519.3 L656.9 519.3 L657.9 519.3 L658.9 519.3 L659.9 519.3 L660.9 519.3 L661.9 519.3 L662.9 519.3 L663.9 519.3 L664.9 519.3 L665.9 519.3 L666.9 519.3 L667.9 519.3 L668.9 519.3 L669.9 519.3 L670.9 519.3 L671.9 519.3 L672.9 519.3 L673.9 519.3 L674.9 519.3 L675.9 519.3 L676.9 519.3 L677.9 519.3 L678.9 519.3 L679.9 519.3 L680.9 519.3 L681.9 519.3 L682.9 519.3 L683.9 519.3 L684.9 519.3 L685.9 519.3 L686.9 519.3 L687.9 519.3 L688.9 519.3 L689.9 519.3 L690.9 519.3 L691.9 519.3 L692.9 519.3 L693.9 519.3 L694.9 519.3 L695.9 519.3 L696.9 519.3 L697.9 519.3 L698.9 519.3 L699.9 519.3 L700.9 519.3 L701.9 519.3 L702.9 519.3 L703.9 519.3 L704.9 519.3 L705.9 519.3 L706.9 519.3 L707.9 519.3 L708.9 519.3 L709.9 519.3 L710.9 519.3 L711.9 519.3 L712.9 519.3 L713.9 519.3 L714.9 519.3 L715.9 519.3 L716.9 519.3 L717.9 519.3 L718.9 519.3 L719.9 519.3 L720.9 519.3 L721.9 519.3 L722.9 519.3 L723.9 519.3 L724.9 519.3 L725.9 519.3 L726.9 519.3 L727.9 519.3 L728.9 519.3 L729.9 519.3 L730.9 519.3 L731.9 519.3 L732.9 519.3 L733.9 519.3 L734.9 519.3 L735.9 519.3 L736.9 519.3 L737.9 519.3 L738.9 519.3 L739.9 519.3 L740.9 519.3 L741.9 519.3 L742.9 519.3 L743.9 519.3 L744.9 519.3 L745.9 519.3 L746.9 519.3 L747.9 519.3 L748.9 519.3 L749.9 519.3 L750.9 519.3 L751.9 519.3 L752.9 519.3 L753.9 519.3 L754.9 519.3 L755.9 519.3 L756.9 519.3 L757.9 519.3 L758.9 519.3 L759.9 519.3 L760.9 519.3 L761.9 519.3 L762.9 519.3 L763.9 519.3 L764.9 519.3 L765.9 519.3 L766.9 519.3 L767.9 519.3 L768.9 519.3 L769.9 519.3 L770.9 519.3 L771.9 519.3 L772.9 519.3 L773.9 519.3 L774.9 519.3 L775.9 519.3 L776.9 519.3 L777.9 519.3 L778.9 519.3 L779.9 519.3 L780.9 519.3 L781.9 519.3 L782.9 519.3 L783.9 519.3 L784.9 519.3 L785.9 519.3 L786.9 519.3 L787.9 519.3 L788.9 519.3 L789.9 519.3 L790.9 519.3 L791.9 519.3 L792.9 519.3 L793.9 519.3 L794.9 519.3 L795.9 519.3 L796.9 519.3 L797.9 519.3 L798.9 519.3 L799.9 519.3 L800.9 519.3 L801.9 519.3 L802.9 519.3 L803.9 519.3 L804.9 519.3 L805.9 519.3 L806.9 519.3 L807.9 519.3 L808.9 519.3 L809.9 519.3 L810.9 519.3 L811.9 519.3 L812.9 519.3 L813.9 519.3 L814.9 519.3 L815.9 519.3 L816.9 519.3 L817.9 519.3 L818.9 519.3 L819.9 519.3 L820.9 519.3 L821.9 519.3 L822.9 519.3 L823.9 519.3 L824.9 519.3 L825.9 519.3 L826.9 519.3 L827.9 519.3 L828.9 519.3 L829.9 519.3 L830.9 519.3 L831.9 519.3 L832.9 519.3 L833.9 519.3 L834.9 519.3 L835.9 519.3 L836.9 519.3 L837.9 519.3 L838.9 519.3 L839.9 519.3 L840.9 519.3 L841.9 519.3 L842.9 519.3 L843.9 519.3 L844.9 519.3 L845.9 519.3 L846.9 519.3 L847.9 519.3 L848.9 519.3 L849.9 519.3 L850.9 519.3 L851.9 519.3 L852.9 519.3 L853.9 519.3 L854.9 519.3 L855.9 519.3 L856.9 519.3 L857.9 519.3 L858.9 519.3 L859.9 519.3 L860.9 519.3 L861.9 519.3 L862.9 519.3 L863.9 519.3 L864.9 519.3 L865.9 519.3 L866.9 519.3 L867.9 519.3 L868.9 519.3 L869.9 519.3 L870.9 519.3 L871.9 519.3 L872.9 519.3 L873.9 519.3 L874.9 519.3 L875.9 519.3 L876.9 519.3 L877.9 519.3 L878.9 519.3 L879.9 519.3" fill="none" stroke="#000" stroke-width="2.1" stroke-dasharray="8.4 3.85" stroke-dashoffset="-3.1"/>
<use href="#xm" x="525.9" y="526.1"/><use href="#xm" x="537.7" y="575.1"/><use href="#xm" x="549.5" y="591.8"/><use href="#xm" x="561.3" y="589.9"/><use href="#xm" x="573.3" y="578.1"/><use href="#xm" x="585.1" y="529.7"/><use href="#xm" x="596.9" y="527.7"/><use href="#xm" x="608.7" y="533.8"/><use href="#xm" x="620.5" y="524.2"/><use href="#xm" x="632.5" y="525.7"/><use href="#xm" x="644.3" y="515.5"/><use href="#xm" x="656.1" y="520.0"/><use href="#xm" x="667.9" y="515.5"/><use href="#xm" x="679.7" y="523.0"/><use href="#xm" x="691.7" y="495.2"/><use href="#xm" x="703.5" y="517.5"/><use href="#xm" x="715.3" y="520.2"/><use href="#xm" x="727.1" y="522.6"/><use href="#xm" x="738.9" y="519.6"/><use href="#xm" x="750.7" y="524.0"/><use href="#xm" x="762.5" y="519.6"/><use href="#xm" x="774.7" y="514.1"/><use href="#xm" x="798.1" y="520.8"/><use href="#xm" x="809.9" y="522.8"/>
</g>
<path d="M525.9 433.4H880.65V621.0H525.9ZM525.9 437.1h8.0M525.9 529.0h8.0M644.2 621.0v-8.0M762.5 621.0v-8.0" fill="none" stroke="#111" stroke-width="1.4"/>
<text transform="translate(525.90 643.10) scale(0.765 1)" font-size="24.4" text-anchor="middle" stroke="#000" stroke-width="0.5">0</text>
<text transform="translate(644.20 643.10) scale(0.765 1)" font-size="24.4" text-anchor="middle" stroke="#000" stroke-width="0.5">100</text>
<text transform="translate(762.50 643.10) scale(0.765 1)" font-size="24.4" text-anchor="middle" stroke="#000" stroke-width="0.5">200</text>
<text transform="translate(880.80 643.10) scale(0.765 1)" font-size="24.4" text-anchor="middle" stroke="#000" stroke-width="0.5">300</text>
<text transform="translate(520.10 629.60) scale(0.765 1)" font-size="24.4" text-anchor="end" stroke="#000" stroke-width="0.5">0</text>
<text transform="translate(520.10 537.65) scale(0.765 1)" font-size="24.4" text-anchor="end" stroke="#000" stroke-width="0.5">5000</text>
<text transform="translate(520.10 445.70) scale(0.765 1)" font-size="24.4" text-anchor="end" stroke="#000" stroke-width="0.5">10000</text>
<text x="471.40" y="405.8" font-size="30.8" font-weight="bold">F</text>
</g>
<g id="pG">
<g clip-path="url(#cG)">
<path d="M964.0 565.7 L965.0 565.7 L966.0 565.7 L967.0 565.7 L968.0 565.7 L969.0 565.7 L970.0 565.7 L971.0 565.7 L972.0 565.7 L973.0 565.7 L974.0 565.7 L975.0 565.7 L976.0 565.7 L977.0 565.7 L978.0 565.7 L979.0 565.7 L980.0 565.7 L981.0 565.7 L982.0 565.7 L983.0 565.7 L984.0 565.7 L985.0 565.7 L986.0 565.7 L987.0 565.7 L988.0 565.6 L989.0 565.6 L990.0 565.6 L991.0 565.5 L992.0 565.3 L993.0 565.0 L994.0 564.5 L995.0 563.8 L996.0 562.5 L997.0 560.6 L998.0 557.9 L999.0 554.3 L1000.0 549.9 L1001.0 545.3 L1002.0 541.0 L1003.0 537.6 L1004.0 535.0 L1005.0 533.3 L1006.0 532.2 L1007.0 531.5 L1008.0 531.0 L1009.0 530.8 L1010.0 530.6 L1011.0 530.5 L1012.0 530.5 L1013.0 530.4 L1014.0 530.4 L1015.0 530.4 L1016.0 530.4 L1017.0 530.4 L1018.0 530.4 L1019.0 530.4 L1020.0 530.4 L1021.0 530.4 L1022.0 530.4 L1023.0 530.4 L1024.0 530.4 L1025.0 530.4 L1026.0 530.4 L1027.0 530.4 L1028.0 530.4 L1029.0 530.4 L1030.0 530.4 L1031.0 530.4 L1032.0 530.4 L1033.0 530.4 L1034.0 530.4 L1035.0 530.4 L1036.0 530.4 L1037.0 530.4 L1038.0 530.4 L1039.0 530.4 L1040.0 530.4 L1041.0 530.4 L1042.0 530.4 L1043.0 530.4 L1044.0 530.4 L1045.0 530.4 L1046.0 530.4 L1047.0 530.4 L1048.0 530.4 L1049.0 530.4 L1050.0 530.4 L1051.0 530.4 L1052.0 530.4 L1053.0 530.4 L1054.0 530.4 L1055.0 530.4 L1056.0 530.4 L1057.0 530.4 L1058.0 530.4 L1059.0 530.4 L1060.0 530.4 L1061.0 530.4 L1062.0 530.4 L1063.0 530.4 L1064.0 530.4 L1065.0 530.4 L1066.0 530.4 L1067.0 530.4 L1068.0 530.4 L1069.0 530.4 L1070.0 530.4 L1071.0 530.4 L1072.0 530.4 L1073.0 530.4 L1074.0 530.4 L1075.0 530.4 L1076.0 530.4 L1077.0 530.4 L1078.0 530.4 L1079.0 530.4 L1080.0 530.4 L1081.0 530.4 L1082.0 530.4 L1083.0 530.4 L1084.0 530.4 L1085.0 530.4 L1086.0 530.4 L1087.0 530.4 L1088.0 530.4 L1089.0 530.4 L1090.0 530.4 L1091.0 530.4 L1092.0 530.4 L1093.0 530.4 L1094.0 530.4 L1095.0 530.4 L1096.0 530.4 L1097.0 530.4 L1098.0 530.4 L1099.0 530.4 L1100.0 530.4 L1101.0 530.4 L1102.0 530.4 L1103.0 530.4 L1104.0 530.4 L1105.0 530.4 L1106.0 530.4 L1107.0 530.4 L1108.0 530.4 L1109.0 530.4 L1110.0 530.4 L1111.0 530.4 L1112.0 530.4 L1113.0 530.4 L1114.0 530.4 L1115.0 530.4 L1116.0 530.4 L1117.0 530.4 L1118.0 530.4 L1119.0 530.4 L1120.0 530.4 L1121.0 530.4 L1122.0 530.4 L1123.0 530.4 L1124.0 530.4 L1125.0 530.4 L1126.0 530.4 L1127.0 530.4 L1128.0 530.4 L1129.0 530.4 L1130.0 530.4 L1131.0 530.4 L1132.0 530.4 L1133.0 530.4 L1134.0 530.4 L1135.0 530.4 L1136.0 530.4 L1137.0 530.4 L1138.0 530.4 L1139.0 530.4 L1140.0 530.4 L1141.0 530.4 L1142.0 530.4 L1143.0 530.4 L1144.0 530.4 L1145.0 530.4 L1146.0 530.4 L1147.0 530.4 L1148.0 530.4 L1149.0 530.4 L1150.0 530.4 L1151.0 530.4 L1152.0 530.4 L1153.0 530.4 L1154.0 530.4 L1155.0 530.4 L1156.0 530.4 L1157.0 530.4 L1158.0 530.4 L1159.0 530.4 L1160.0 530.4 L1161.0 530.4 L1162.0 530.4 L1163.0 530.4 L1164.0 530.4 L1165.0 530.4 L1166.0 530.4 L1167.0 530.4 L1168.0 530.4 L1169.0 530.4 L1170.0 530.4 L1171.0 530.4 L1172.0 530.4 L1173.0 530.4 L1174.0 530.4 L1175.0 530.4 L1176.0 530.4 L1177.0 530.4 L1178.0 530.4 L1179.0 530.4 L1180.0 530.4 L1181.0 530.4 L1182.0 530.4 L1183.0 530.4 L1184.0 530.4 L1185.0 530.4 L1186.0 530.4 L1187.0 530.4 L1188.0 530.4 L1189.0 530.4 L1190.0 530.4 L1191.0 530.4 L1192.0 530.4 L1193.0 530.4 L1194.0 530.4 L1195.0 530.4 L1196.0 530.4 L1197.0 530.4 L1198.0 530.4 L1199.0 530.4 L1200.0 530.4 L1201.0 530.4 L1202.0 530.4 L1203.0 530.4 L1204.0 530.4 L1205.0 530.4 L1206.0 530.4 L1207.0 530.4 L1208.0 530.4 L1209.0 530.4 L1210.0 530.4 L1211.0 530.4 L1212.0 530.4 L1213.0 530.4 L1214.0 530.4 L1215.0 530.4 L1216.0 530.4 L1217.0 530.4 L1218.0 530.4 L1219.0 530.4 L1220.0 530.4 L1221.0 530.4 L1222.0 530.4 L1223.0 530.4 L1224.0 530.4 L1225.0 530.4 L1226.0 530.4 L1227.0 530.4 L1228.0 530.4 L1229.0 530.4 L1230.0 530.4 L1231.0 530.4 L1232.0 530.4 L1233.0 530.4 L1234.0 530.4 L1235.0 530.4 L1236.0 530.4 L1237.0 530.4 L1238.0 530.4 L1239.0 530.4 L1240.0 530.4 L1241.0 530.4 L1242.0 530.4 L1243.0 530.4 L1244.0 530.4 L1245.0 530.4 L1246.0 530.4 L1247.0 530.4 L1248.0 530.4 L1249.0 530.4 L1250.0 530.4 L1251.0 530.4 L1252.0 530.4 L1253.0 530.4 L1254.0 530.4 L1255.0 530.4 L1256.0 530.4 L1257.0 530.4 L1258.0 530.4 L1259.0 530.4 L1260.0 530.4 L1261.0 530.4 L1262.0 530.4 L1263.0 530.4 L1264.0 530.4 L1265.0 530.4 L1266.0 530.4 L1267.0 530.4 L1268.0 530.4 L1269.0 530.4 L1270.0 530.4 L1271.0 530.4 L1272.0 530.4 L1273.0 530.4 L1274.0 530.4 L1275.0 530.4 L1276.0 530.4 L1277.0 530.4 L1278.0 530.4 L1279.0 530.4 L1280.0 530.4 L1281.0 530.4 L1282.0 530.4 L1283.0 530.4 L1284.0 530.4 L1285.0 530.4 L1286.0 530.4 L1287.0 530.4 L1288.0 530.4 L1289.0 530.4 L1290.0 530.4 L1291.0 530.4 L1292.0 530.4 L1293.0 530.4 L1294.0 530.4 L1295.0 530.4 L1296.0 530.4 L1297.0 530.4 L1298.0 530.4 L1299.0 530.4 L1300.0 530.4 L1301.0 530.4 L1302.0 530.4 L1303.0 530.4 L1304.0 530.4 L1305.0 530.4 L1306.0 530.4 L1307.0 530.4 L1308.0 530.4 L1309.0 530.4 L1310.0 530.4 L1311.0 530.4 L1312.0 530.4 L1313.0 530.4 L1314.0 530.4 L1315.0 530.4 L1316.0 530.4 L1317.0 530.4 L1318.0 530.4" fill="none" stroke="#808080" stroke-width="2"/>
<g fill="#808080"><circle cx="964.3" cy="594.9" r="6.3"/><circle cx="970.2" cy="537.8" r="6.3"/><circle cx="976.1" cy="585.2" r="6.3"/><circle cx="982.0" cy="541.9" r="6.3"/><circle cx="988.0" cy="585.0" r="6.3"/><circle cx="993.9" cy="582.9" r="6.3"/><circle cx="999.8" cy="536.7" r="6.3"/><circle cx="1005.7" cy="542.9" r="6.3"/><circle cx="1011.6" cy="521.2" r="6.3"/><circle cx="1017.5" cy="531.7" r="6.3"/><circle cx="1023.4" cy="519.9" r="6.3"/><circle cx="1029.4" cy="526.2" r="6.3"/><circle cx="1035.3" cy="538.5" r="6.3"/><circle cx="1041.2" cy="530.5" r="6.3"/><circle cx="1047.1" cy="533.9" r="6.3"/><circle cx="1053.0" cy="525.8" r="6.3"/><circle cx="1058.9" cy="533.4" r="6.3"/><circle cx="1064.9" cy="536.4" r="6.3"/><circle cx="1070.8" cy="530.5" r="6.3"/><circle cx="1076.7" cy="534.3" r="6.3"/><circle cx="1082.6" cy="527.5" r="6.3"/><circle cx="1088.5" cy="534.3" r="6.3"/><circle cx="1094.4" cy="531.7" r="6.3"/><circle cx="1100.3" cy="531.0" r="6.3"/><circle cx="1106.3" cy="529.2" r="6.3"/><circle cx="1112.2" cy="523.1" r="6.3"/><circle cx="1118.1" cy="534.6" r="6.3"/><circle cx="1124.0" cy="529.4" r="6.3"/><circle cx="1129.9" cy="524.8" r="6.3"/><circle cx="1135.8" cy="527.1" r="6.3"/><circle cx="1141.8" cy="528.0" r="6.3"/><circle cx="1147.7" cy="533.1" r="6.3"/><circle cx="1153.6" cy="536.1" r="6.3"/><circle cx="1159.5" cy="529.0" r="6.3"/><circle cx="1165.4" cy="525.2" r="6.3"/><circle cx="1171.3" cy="528.0" r="6.3"/><circle cx="1177.2" cy="532.9" r="6.3"/><circle cx="1183.2" cy="531.5" r="6.3"/></g>
<path d="M964.0 593.8 L965.0 593.8 L966.0 593.8 L967.0 593.8 L968.0 593.8 L969.0 593.7 L970.0 593.7 L971.0 593.7 L972.0 593.7 L973.0 593.6 L974.0 593.6 L975.0 593.6 L976.0 593.6 L977.0 593.5 L978.0 593.5 L979.0 593.5 L980.0 593.4 L981.0 593.4 L982.0 593.3 L983.0 593.3 L984.0 593.2 L985.0 593.2 L986.0 593.1 L987.0 593.0 L988.0 593.0 L989.0 592.9 L990.0 592.8 L991.0 592.7 L992.0 592.7 L993.0 592.6 L994.0 592.5 L995.0 592.3 L996.0 592.2 L997.0 592.1 L998.0 592.0 L999.0 591.8 L1000.0 591.7 L1001.0 591.5 L1002.0 591.3 L1003.0 591.1 L1004.0 591.0 L1005.0 590.7 L1006.0 590.5 L1007.0 590.3 L1008.0 590.0 L1009.0 589.8 L1010.0 589.5 L1011.0 589.2 L1012.0 588.9 L1013.0 588.5 L1014.0 588.2 L1015.0 587.8 L1016.0 587.4 L1017.0 587.0 L1018.0 586.6 L1019.0 586.1 L1020.0 585.6 L1021.0 585.1 L1022.0 584.6 L1023.0 584.1 L1024.0 583.5 L1025.0 582.9 L1026.0 582.3 L1027.0 581.7 L1028.0 581.0 L1029.0 580.3 L1030.0 579.7 L1031.0 578.9 L1032.0 578.2 L1033.0 577.5 L1034.0 576.7 L1035.0 575.9 L1036.0 575.1 L1037.0 574.4 L1038.0 573.6 L1039.0 572.7 L1040.0 571.9 L1041.0 571.1 L1042.0 570.3 L1043.0 569.5 L1044.0 568.7 L1045.0 567.9 L1046.0 567.1 L1047.0 566.3 L1048.0 565.5 L1049.0 564.8 L1050.0 564.0 L1051.0 563.3 L1052.0 562.6 L1053.0 561.9 L1054.0 561.2 L1055.0 560.6 L1056.0 560.0 L1057.0 559.4 L1058.0 558.8 L1059.0 558.2 L1060.0 557.7 L1061.0 557.2 L1062.0 556.7 L1063.0 556.2 L1064.0 555.7 L1065.0 555.3 L1066.0 554.9 L1067.0 554.5 L1068.0 554.2 L1069.0 553.8 L1070.0 553.5 L1071.0 553.2 L1072.0 552.9 L1073.0 552.6 L1074.0 552.3 L1075.0 552.1 L1076.0 551.8 L1077.0 551.6 L1078.0 551.4 L1079.0 551.2 L1080.0 551.0 L1081.0 550.9 L1082.0 550.7 L1083.0 550.5 L1084.0 550.4 L1085.0 550.3 L1086.0 550.1 L1087.0 550.0 L1088.0 549.9 L1089.0 549.8 L1090.0 549.7 L1091.0 549.6 L1092.0 549.6 L1093.0 549.5 L1094.0 549.4 L1095.0 549.3 L1096.0 549.3 L1097.0 549.2 L1098.0 549.2 L1099.0 549.1 L1100.0 549.1 L1101.0 549.0 L1102.0 549.0 L1103.0 548.9 L1104.0 548.9 L1105.0 548.9 L1106.0 548.8 L1107.0 548.8 L1108.0 548.8 L1109.0 548.7 L1110.0 548.7 L1111.0 548.7 L1112.0 548.7 L1113.0 548.7 L1114.0 548.6 L1115.0 548.6 L1116.0 548.6 L1117.0 548.6 L1118.0 548.6 L1119.0 548.6 L1120.0 548.6 L1121.0 548.5 L1122.0 548.5 L1123.0 548.5 L1124.0 548.5 L1125.0 548.5 L1126.0 548.5 L1127.0 548.5 L1128.0 548.5 L1129.0 548.5 L1130.0 548.5 L1131.0 548.5 L1132.0 548.5 L1133.0 548.5 L1134.0 548.5 L1135.0 548.5 L1136.0 548.5 L1137.0 548.4 L1138.0 548.4 L1139.0 548.4 L1140.0 548.4 L1141.0 548.4 L1142.0 548.4 L1143.0 548.4 L1144.0 548.4 L1145.0 548.4 L1146.0 548.4 L1147.0 548.4 L1148.0 548.4 L1149.0 548.4 L1150.0 548.4 L1151.0 548.4 L1152.0 548.4 L1153.0 548.4 L1154.0 548.4 L1155.0 548.4 L1156.0 548.4 L1157.0 548.4 L1158.0 548.4 L1159.0 548.4 L1160.0 548.4 L1161.0 548.4 L1162.0 548.4 L1163.0 548.4 L1164.0 548.4 L1165.0 548.4 L1166.0 548.4 L1167.0 548.4 L1168.0 548.4 L1169.0 548.4 L1170.0 548.4 L1171.0 548.4 L1172.0 548.4 L1173.0 548.4 L1174.0 548.4 L1175.0 548.4 L1176.0 548.4 L1177.0 548.4 L1178.0 548.4 L1179.0 548.4 L1180.0 548.4 L1181.0 548.4 L1182.0 548.4 L1183.0 548.4 L1184.0 548.4 L1185.0 548.4 L1186.0 548.4 L1187.0 548.4 L1188.0 548.4 L1189.0 548.4 L1190.0 548.4 L1191.0 548.4 L1192.0 548.4 L1193.0 548.4 L1194.0 548.4 L1195.0 548.4 L1196.0 548.4 L1197.0 548.4 L1198.0 548.4 L1199.0 548.4 L1200.0 548.4 L1201.0 548.4 L1202.0 548.4 L1203.0 548.4 L1204.0 548.4 L1205.0 548.4 L1206.0 548.4 L1207.0 548.4 L1208.0 548.4 L1209.0 548.4 L1210.0 548.4 L1211.0 548.4 L1212.0 548.4 L1213.0 548.4 L1214.0 548.4 L1215.0 548.4 L1216.0 548.4 L1217.0 548.4 L1218.0 548.4 L1219.0 548.4 L1220.0 548.4 L1221.0 548.4 L1222.0 548.4 L1223.0 548.4 L1224.0 548.4 L1225.0 548.4 L1226.0 548.4 L1227.0 548.4 L1228.0 548.4 L1229.0 548.4 L1230.0 548.4 L1231.0 548.4 L1232.0 548.4 L1233.0 548.4 L1234.0 548.4 L1235.0 548.4 L1236.0 548.4 L1237.0 548.4 L1238.0 548.4 L1239.0 548.4 L1240.0 548.4 L1241.0 548.4 L1242.0 548.4 L1243.0 548.4 L1244.0 548.4 L1245.0 548.4 L1246.0 548.4 L1247.0 548.4 L1248.0 548.4 L1249.0 548.4 L1250.0 548.4 L1251.0 548.4 L1252.0 548.4 L1253.0 548.4 L1254.0 548.4 L1255.0 548.4 L1256.0 548.4 L1257.0 548.4 L1258.0 548.4 L1259.0 548.4 L1260.0 548.4 L1261.0 548.4 L1262.0 548.4 L1263.0 548.4 L1264.0 548.4 L1265.0 548.4 L1266.0 548.4 L1267.0 548.4 L1268.0 548.4 L1269.0 548.4 L1270.0 548.4 L1271.0 548.4 L1272.0 548.4 L1273.0 548.4 L1274.0 548.4 L1275.0 548.4 L1276.0 548.4 L1277.0 548.4 L1278.0 548.4 L1279.0 548.4 L1280.0 548.4 L1281.0 548.4 L1282.0 548.4 L1283.0 548.4 L1284.0 548.4 L1285.0 548.4 L1286.0 548.4 L1287.0 548.4 L1288.0 548.4 L1289.0 548.4 L1290.0 548.4 L1291.0 548.4 L1292.0 548.4 L1293.0 548.4 L1294.0 548.4 L1295.0 548.4 L1296.0 548.4 L1297.0 548.4 L1298.0 548.4 L1299.0 548.4 L1300.0 548.4 L1301.0 548.4 L1302.0 548.4 L1303.0 548.4 L1304.0 548.4 L1305.0 548.4 L1306.0 548.4 L1307.0 548.4 L1308.0 548.4 L1309.0 548.4 L1310.0 548.4 L1311.0 548.4 L1312.0 548.4 L1313.0 548.4 L1314.0 548.4 L1315.0 548.4 L1316.0 548.4 L1317.0 548.4 L1318.0 548.4" fill="none" stroke="#000" stroke-width="2.1" stroke-dasharray="8.4 3.85" stroke-dashoffset="-3.8"/>
<use href="#xm" x="964.3" y="585.5"/><use href="#xm" x="970.2" y="594.9"/><use href="#xm" x="976.1" y="586.5"/><use href="#xm" x="982.0" y="594.5"/><use href="#xm" x="988.0" y="594.9"/><use href="#xm" x="993.9" y="593.3"/><use href="#xm" x="999.8" y="580.6"/><use href="#xm" x="1005.7" y="591.6"/><use href="#xm" x="1011.6" y="579.7"/><use href="#xm" x="1017.5" y="588.2"/><use href="#xm" x="1023.4" y="580.6"/><use href="#xm" x="1029.4" y="575.9"/><use href="#xm" x="1035.3" y="577.6"/><use href="#xm" x="1041.2" y="572.1"/><use href="#xm" x="1047.1" y="564.9"/><use href="#xm" x="1053.0" y="561.5"/><use href="#xm" x="1058.9" y="559.4"/><use href="#xm" x="1064.9" y="559.0"/><use href="#xm" x="1070.8" y="550.9"/><use href="#xm" x="1076.7" y="547.7"/><use href="#xm" x="1082.6" y="549.2"/><use href="#xm" x="1088.5" y="551.4"/><use href="#xm" x="1094.4" y="552.3"/><use href="#xm" x="1100.3" y="550.0"/>
</g>
<path d="M964.0 433.4H1318.75V621.0H964.0ZM964.0 437.1h8.0M964.0 529.0h8.0M1082.3 621.0v-8.0M1200.6 621.0v-8.0" fill="none" stroke="#111" stroke-width="1.4"/>
<text transform="translate(964.00 643.10) scale(0.765 1)" font-size="24.4" text-anchor="middle" stroke="#000" stroke-width="0.5">0</text>
<text transform="translate(1082.30 643.10) scale(0.765 1)" font-size="24.4" text-anchor="middle" stroke="#000" stroke-width="0.5">100</text>
<text transform="translate(1200.60 643.10) scale(0.765 1)" font-size="24.4" text-anchor="middle" stroke="#000" stroke-width="0.5">200</text>
<text transform="translate(1318.90 643.10) scale(0.765 1)" font-size="24.4" text-anchor="middle" stroke="#000" stroke-width="0.5">300</text>
<text transform="translate(958.20 629.60) scale(0.765 1)" font-size="24.4" text-anchor="end" stroke="#000" stroke-width="0.5">0</text>
<text transform="translate(958.20 537.65) scale(0.765 1)" font-size="24.4" text-anchor="end" stroke="#000" stroke-width="0.5">5000</text>
<text transform="translate(958.20 445.70) scale(0.765 1)" font-size="24.4" text-anchor="end" stroke="#000" stroke-width="0.5">10000</text>
<text x="898.00" y="405.8" font-size="30.8" font-weight="bold">G</text>
</g>
<g id="pH">
<g clip-path="url(#cH)">
<path d="M1402.3 586.7 L1403.3 586.6 L1404.3 586.5 L1405.3 586.4 L1406.3 586.3 L1407.3 586.2 L1408.3 586.0 L1409.3 585.9 L1410.3 585.7 L1411.3 585.6 L1412.3 585.4 L1413.3 585.2 L1414.3 585.0 L1415.3 584.8 L1416.3 584.5 L1417.3 584.3 L1418.3 584.0 L1419.3 583.7 L1420.3 583.4 L1421.3 583.1 L1422.3 582.8 L1423.3 582.4 L1424.3 582.1 L1425.3 581.7 L1426.3 581.3 L1427.3 580.9 L1428.3 580.5 L1429.3 580.1 L1430.3 579.6 L1431.3 579.2 L1432.3 578.8 L1433.3 578.4 L1434.3 577.9 L1435.3 577.5 L1436.3 577.1 L1437.3 576.7 L1438.3 576.3 L1439.3 575.9 L1440.3 575.6 L1441.3 575.2 L1442.3 574.9 L1443.3 574.5 L1444.3 574.2 L1445.3 573.9 L1446.3 573.7 L1447.3 573.4 L1448.3 573.2 L1449.3 573.0 L1450.3 572.7 L1451.3 572.5 L1452.3 572.4 L1453.3 572.2 L1454.3 572.0 L1455.3 571.9 L1456.3 571.8 L1457.3 571.7 L1458.3 571.5 L1459.3 571.4 L1460.3 571.3 L1461.3 571.3 L1462.3 571.2 L1463.3 571.1 L1464.3 571.0 L1465.3 571.0 L1466.3 570.9 L1467.3 570.9 L1468.3 570.8 L1469.3 570.8 L1470.3 570.8 L1471.3 570.7 L1472.3 570.7 L1473.3 570.7 L1474.3 570.6 L1475.3 570.6 L1476.3 570.6 L1477.3 570.6 L1478.3 570.6 L1479.3 570.5 L1480.3 570.5 L1481.3 570.5 L1482.3 570.5 L1483.3 570.5 L1484.3 570.5 L1485.3 570.5 L1486.3 570.5 L1487.3 570.5 L1488.3 570.5 L1489.3 570.5 L1490.3 570.4 L1491.3 570.4 L1492.3 570.4 L1493.3 570.4 L1494.3 570.4 L1495.3 570.4 L1496.3 570.4 L1497.3 570.4 L1498.3 570.4 L1499.3 570.4 L1500.3 570.4 L1501.3 570.4 L1502.3 570.4 L1503.3 570.4 L1504.3 570.4 L1505.3 570.4 L1506.3 570.4 L1507.3 570.4 L1508.3 570.4 L1509.3 570.4 L1510.3 570.4 L1511.3 570.4 L1512.3 570.4 L1513.3 570.4 L1514.3 570.4 L1515.3 570.4 L1516.3 570.4 L1517.3 570.4 L1518.3 570.4 L1519.3 570.4 L1520.3 570.4 L1521.3 570.4 L1522.3 570.4 L1523.3 570.4 L1524.3 570.4 L1525.3 570.4 L1526.3 570.4 L1527.3 570.4 L1528.3 570.4 L1529.3 570.4 L1530.3 570.4 L1531.3 570.4 L1532.3 570.4 L1533.3 570.4 L1534.3 570.4 L1535.3 570.4 L1536.3 570.4 L1537.3 570.4 L1538.3 570.4 L1539.3 570.4 L1540.3 570.4 L1541.3 570.4 L1542.3 570.4 L1543.3 570.4 L1544.3 570.4 L1545.3 570.4 L1546.3 570.4 L1547.3 570.4 L1548.3 570.4 L1549.3 570.4 L1550.3 570.4 L1551.3 570.4 L1552.3 570.4 L1553.3 570.4 L1554.3 570.4 L1555.3 570.4 L1556.3 570.4 L1557.3 570.4 L1558.3 570.4 L1559.3 570.4 L1560.3 570.4 L1561.3 570.4 L1562.3 570.4 L1563.3 570.4 L1564.3 570.4 L1565.3 570.4 L1566.3 570.4 L1567.3 570.4 L1568.3 570.4 L1569.3 570.4 L1570.3 570.4 L1571.3 570.4 L1572.3 570.4 L1573.3 570.4 L1574.3 570.4 L1575.3 570.4 L1576.3 570.4 L1577.3 570.4 L1578.3 570.4 L1579.3 570.4 L1580.3 570.4 L1581.3 570.4 L1582.3 570.4 L1583.3 570.4 L1584.3 570.4 L1585.3 570.4 L1586.3 570.4 L1587.3 570.4 L1588.3 570.4 L1589.3 570.4 L1590.3 570.4 L1591.3 570.4 L1592.3 570.4 L1593.3 570.4 L1594.3 570.4 L1595.3 570.4 L1596.3 570.4 L1597.3 570.4 L1598.3 570.4 L1599.3 570.4 L1600.3 570.4 L1601.3 570.4 L1602.3 570.4 L1603.3 570.4 L1604.3 570.4 L1605.3 570.4 L1606.3 570.4 L1607.3 570.4 L1608.3 570.4 L1609.3 570.4 L1610.3 570.4 L1611.3 570.4 L1612.3 570.4 L1613.3 570.4 L1614.3 570.4 L1615.3 570.4 L1616.3 570.4 L1617.3 570.4 L1618.3 570.4 L1619.3 570.4 L1620.3 570.4 L1621.3 570.4 L1622.3 570.4 L1623.3 570.4 L1624.3 570.4 L1625.3 570.4 L1626.3 570.4 L1627.3 570.4 L1628.3 570.4 L1629.3 570.4 L1630.3 570.4 L1631.3 570.4 L1632.3 570.4 L1633.3 570.4 L1634.3 570.4 L1635.3 570.4 L1636.3 570.4 L1637.3 570.4 L1638.3 570.4 L1639.3 570.4 L1640.3 570.4 L1641.3 570.4 L1642.3 570.4 L1643.3 570.4 L1644.3 570.4 L1645.3 570.4 L1646.3 570.4 L1647.3 570.4 L1648.3 570.4 L1649.3 570.4 L1650.3 570.4 L1651.3 570.4 L1652.3 570.4 L1653.3 570.4 L1654.3 570.4 L1655.3 570.4 L1656.3 570.4 L1657.3 570.4 L1658.3 570.4 L1659.3 570.4 L1660.3 570.4 L1661.3 570.4 L1662.3 570.4 L1663.3 570.4 L1664.3 570.4 L1665.3 570.4 L1666.3 570.4 L1667.3 570.4 L1668.3 570.4 L1669.3 570.4 L1670.3 570.4 L1671.3 570.4 L1672.3 570.4 L1673.3 570.4 L1674.3 570.4 L1675.3 570.4 L1676.3 570.4 L1677.3 570.4 L1678.3 570.4 L1679.3 570.4 L1680.3 570.4 L1681.3 570.4 L1682.3 570.4 L1683.3 570.4 L1684.3 570.4 L1685.3 570.4 L1686.3 570.4 L1687.3 570.4 L1688.3 570.4 L1689.3 570.4 L1690.3 570.4 L1691.3 570.4 L1692.3 570.4 L1693.3 570.4 L1694.3 570.4 L1695.3 570.4 L1696.3 570.4 L1697.3 570.4 L1698.3 570.4 L1699.3 570.4 L1700.3 570.4 L1701.3 570.4 L1702.3 570.4 L1703.3 570.4 L1704.3 570.4 L1705.3 570.4 L1706.3 570.4 L1707.3 570.4 L1708.3 570.4 L1709.3 570.4 L1710.3 570.4 L1711.3 570.4 L1712.3 570.4 L1713.3 570.4 L1714.3 570.4 L1715.3 570.4 L1716.3 570.4 L1717.3 570.4 L1718.3 570.4 L1719.3 570.4 L1720.3 570.4 L1721.3 570.4 L1722.3 570.4 L1723.3 570.4 L1724.3 570.4 L1725.3 570.4 L1726.3 570.4 L1727.3 570.4 L1728.3 570.4 L1729.3 570.4 L1730.3 570.4 L1731.3 570.4 L1732.3 570.4 L1733.3 570.4 L1734.3 570.4 L1735.3 570.4 L1736.3 570.4 L1737.3 570.4 L1738.3 570.4 L1739.3 570.4 L1740.3 570.4 L1741.3 570.4 L1742.3 570.4 L1743.3 570.4 L1744.3 570.4 L1745.3 570.4 L1746.3 570.4 L1747.3 570.4 L1748.3 570.4 L1749.3 570.4 L1750.3 570.4 L1751.3 570.4 L1752.3 570.4 L1753.3 570.4 L1754.3 570.4 L1755.3 570.4 L1756.3 570.4" fill="none" stroke="#808080" stroke-width="2"/>
<g fill="#808080"><circle cx="1402.6" cy="587.6" r="6.3"/><circle cx="1408.5" cy="582.9" r="6.3"/><circle cx="1414.4" cy="589.3" r="6.3"/><circle cx="1420.3" cy="594.7" r="6.3"/><circle cx="1426.3" cy="588.4" r="6.3"/><circle cx="1432.2" cy="591.7" r="6.3"/><circle cx="1438.1" cy="579.1" r="6.3"/><circle cx="1444.0" cy="581.8" r="6.3"/><circle cx="1449.9" cy="573.3" r="6.3"/><circle cx="1455.8" cy="575.7" r="6.3"/><circle cx="1461.8" cy="577.7" r="6.3"/><circle cx="1467.7" cy="575.7" r="6.3"/><circle cx="1473.6" cy="577.7" r="6.3"/><circle cx="1479.5" cy="569.4" r="6.3"/><circle cx="1485.4" cy="569.8" r="6.3"/><circle cx="1491.3" cy="570.7" r="6.3"/><circle cx="1497.2" cy="571.5" r="6.3"/><circle cx="1503.2" cy="568.2" r="6.3"/><circle cx="1509.1" cy="568.4" r="6.3"/><circle cx="1515.0" cy="567.2" r="6.3"/><circle cx="1520.9" cy="568.4" r="6.3"/><circle cx="1526.8" cy="568.1" r="6.3"/><circle cx="1532.7" cy="571.8" r="6.3"/><circle cx="1538.6" cy="572.2" r="6.3"/><circle cx="1544.6" cy="570.7" r="6.3"/><circle cx="1550.5" cy="572.3" r="6.3"/><circle cx="1556.4" cy="571.5" r="6.3"/><circle cx="1562.3" cy="572.3" r="6.3"/><circle cx="1568.2" cy="569.8" r="6.3"/><circle cx="1574.1" cy="566.8" r="6.3"/><circle cx="1580.0" cy="569.8" r="6.3"/><circle cx="1586.0" cy="570.6" r="6.3"/><circle cx="1591.9" cy="567.2" r="6.3"/><circle cx="1597.8" cy="570.2" r="6.3"/></g>
<path d="M1402.3 586.1 L1403.3 586.0 L1404.3 586.0 L1405.3 585.9 L1406.3 585.8 L1407.3 585.7 L1408.3 585.6 L1409.3 585.5 L1410.3 585.3 L1411.3 585.2 L1412.3 585.1 L1413.3 584.9 L1414.3 584.8 L1415.3 584.6 L1416.3 584.4 L1417.3 584.2 L1418.3 584.0 L1419.3 583.8 L1420.3 583.6 L1421.3 583.3 L1422.3 583.1 L1423.3 582.8 L1424.3 582.6 L1425.3 582.3 L1426.3 582.0 L1427.3 581.7 L1428.3 581.4 L1429.3 581.0 L1430.3 580.7 L1431.3 580.3 L1432.3 580.0 L1433.3 579.6 L1434.3 579.3 L1435.3 578.9 L1436.3 578.5 L1437.3 578.1 L1438.3 577.8 L1439.3 577.4 L1440.3 577.0 L1441.3 576.6 L1442.3 576.3 L1443.3 575.9 L1444.3 575.6 L1445.3 575.2 L1446.3 574.9 L1447.3 574.5 L1448.3 574.2 L1449.3 573.9 L1450.3 573.6 L1451.3 573.3 L1452.3 573.1 L1453.3 572.8 L1454.3 572.6 L1455.3 572.3 L1456.3 572.1 L1457.3 571.9 L1458.3 571.7 L1459.3 571.5 L1460.3 571.3 L1461.3 571.1 L1462.3 571.0 L1463.3 570.8 L1464.3 570.7 L1465.3 570.6 L1466.3 570.4 L1467.3 570.3 L1468.3 570.2 L1469.3 570.1 L1470.3 570.0 L1471.3 569.9 L1472.3 569.9 L1473.3 569.8 L1474.3 569.7 L1475.3 569.7 L1476.3 569.6 L1477.3 569.5 L1478.3 569.5 L1479.3 569.5 L1480.3 569.4 L1481.3 569.4 L1482.3 569.3 L1483.3 569.3 L1484.3 569.3 L1485.3 569.2 L1486.3 569.2 L1487.3 569.2 L1488.3 569.2 L1489.3 569.1 L1490.3 569.1 L1491.3 569.1 L1492.3 569.1 L1493.3 569.1 L1494.3 569.1 L1495.3 569.0 L1496.3 569.0 L1497.3 569.0 L1498.3 569.0 L1499.3 569.0 L1500.3 569.0 L1501.3 569.0 L1502.3 569.0 L1503.3 569.0 L1504.3 569.0 L1505.3 569.0 L1506.3 569.0 L1507.3 569.0 L1508.3 569.0 L1509.3 568.9 L1510.3 568.9 L1511.3 568.9 L1512.3 568.9 L1513.3 568.9 L1514.3 568.9 L1515.3 568.9 L1516.3 568.9 L1517.3 568.9 L1518.3 568.9 L1519.3 568.9 L1520.3 568.9 L1521.3 568.9 L1522.3 568.9 L1523.3 568.9 L1524.3 568.9 L1525.3 568.9 L1526.3 568.9 L1527.3 568.9 L1528.3 568.9 L1529.3 568.9 L1530.3 568.9 L1531.3 568.9 L1532.3 568.9 L1533.3 568.9 L1534.3 568.9 L1535.3 568.9 L1536.3 568.9 L1537.3 568.9 L1538.3 568.9 L1539.3 568.9 L1540.3 568.9 L1541.3 568.9 L1542.3 568.9 L1543.3 568.9 L1544.3 568.9 L1545.3 568.9 L1546.3 568.9 L1547.3 568.9 L1548.3 568.9 L1549.3 568.9 L1550.3 568.9 L1551.3 568.9 L1552.3 568.9 L1553.3 568.9 L1554.3 568.9 L1555.3 568.9 L1556.3 568.9 L1557.3 568.9 L1558.3 568.9 L1559.3 568.9 L1560.3 568.9 L1561.3 568.9 L1562.3 568.9 L1563.3 568.9 L1564.3 568.9 L1565.3 568.9 L1566.3 568.9 L1567.3 568.9 L1568.3 568.9 L1569.3 568.9 L1570.3 568.9 L1571.3 568.9 L1572.3 568.9 L1573.3 568.9 L1574.3 568.9 L1575.3 568.9 L1576.3 568.9 L1577.3 568.9 L1578.3 568.9 L1579.3 568.9 L1580.3 568.9 L1581.3 568.9 L1582.3 568.9 L1583.3 568.9 L1584.3 568.9 L1585.3 568.9 L1586.3 568.9 L1587.3 568.9 L1588.3 568.9 L1589.3 568.9 L1590.3 568.9 L1591.3 568.9 L1592.3 568.9 L1593.3 568.9 L1594.3 568.9 L1595.3 568.9 L1596.3 568.9 L1597.3 568.9 L1598.3 568.9 L1599.3 568.9 L1600.3 568.9 L1601.3 568.9 L1602.3 568.9 L1603.3 568.9 L1604.3 568.9 L1605.3 568.9 L1606.3 568.9 L1607.3 568.9 L1608.3 568.9 L1609.3 568.9 L1610.3 568.9 L1611.3 568.9 L1612.3 568.9 L1613.3 568.9 L1614.3 568.9 L1615.3 568.9 L1616.3 568.9 L1617.3 568.9 L1618.3 568.9 L1619.3 568.9 L1620.3 568.9 L1621.3 568.9 L1622.3 568.9 L1623.3 568.9 L1624.3 568.9 L1625.3 568.9 L1626.3 568.9 L1627.3 568.9 L1628.3 568.9 L1629.3 568.9 L1630.3 568.9 L1631.3 568.9 L1632.3 568.9 L1633.3 568.9 L1634.3 568.9 L1635.3 568.9 L1636.3 568.9 L1637.3 568.9 L1638.3 568.9 L1639.3 568.9 L1640.3 568.9 L1641.3 568.9 L1642.3 568.9 L1643.3 568.9 L1644.3 568.9 L1645.3 568.9 L1646.3 568.9 L1647.3 568.9 L1648.3 568.9 L1649.3 568.9 L1650.3 568.9 L1651.3 568.9 L1652.3 568.9 L1653.3 568.9 L1654.3 568.9 L1655.3 568.9 L1656.3 568.9 L1657.3 568.9 L1658.3 568.9 L1659.3 568.9 L1660.3 568.9 L1661.3 568.9 L1662.3 568.9 L1663.3 568.9 L1664.3 568.9 L1665.3 568.9 L1666.3 568.9 L1667.3 568.9 L1668.3 568.9 L1669.3 568.9 L1670.3 568.9 L1671.3 568.9 L1672.3 568.9 L1673.3 568.9 L1674.3 568.9 L1675.3 568.9 L1676.3 568.9 L1677.3 568.9 L1678.3 568.9 L1679.3 568.9 L1680.3 568.9 L1681.3 568.9 L1682.3 568.9 L1683.3 568.9 L1684.3 568.9 L1685.3 568.9 L1686.3 568.9 L1687.3 568.9 L1688.3 568.9 L1689.3 568.9 L1690.3 568.9 L1691.3 568.9 L1692.3 568.9 L1693.3 568.9 L1694.3 568.9 L1695.3 568.9 L1696.3 568.9 L1697.3 568.9 L1698.3 568.9 L1699.3 568.9 L1700.3 568.9 L1701.3 568.9 L1702.3 568.9 L1703.3 568.9 L1704.3 568.9 L1705.3 568.9 L1706.3 568.9 L1707.3 568.9 L1708.3 568.9 L1709.3 568.9 L1710.3 568.9 L1711.3 568.9 L1712.3 568.9 L1713.3 568.9 L1714.3 568.9 L1715.3 568.9 L1716.3 568.9 L1717.3 568.9 L1718.3 568.9 L1719.3 568.9 L1720.3 568.9 L1721.3 568.9 L1722.3 568.9 L1723.3 568.9 L1724.3 568.9 L1725.3 568.9 L1726.3 568.9 L1727.3 568.9 L1728.3 568.9 L1729.3 568.9 L1730.3 568.9 L1731.3 568.9 L1732.3 568.9 L1733.3 568.9 L1734.3 568.9 L1735.3 568.9 L1736.3 568.9 L1737.3 568.9 L1738.3 568.9 L1739.3 568.9 L1740.3 568.9 L1741.3 568.9 L1742.3 568.9 L1743.3 568.9 L1744.3 568.9 L1745.3 568.9 L1746.3 568.9 L1747.3 568.9 L1748.3 568.9 L1749.3 568.9 L1750.3 568.9 L1751.3 568.9 L1752.3 568.9 L1753.3 568.9 L1754.3 568.9 L1755.3 568.9 L1756.3 568.9" fill="none" stroke="#000" stroke-width="2.1" stroke-dasharray="8.4 3.85" stroke-dashoffset="-1.3"/>
<use href="#xm" x="1402.6" y="593.1"/><use href="#xm" x="1408.5" y="585.0"/><use href="#xm" x="1414.4" y="576.1"/><use href="#xm" x="1420.3" y="588.8"/><use href="#xm" x="1426.3" y="577.4"/><use href="#xm" x="1432.2" y="582.5"/><use href="#xm" x="1438.1" y="577.4"/><use href="#xm" x="1444.0" y="578.7"/><use href="#xm" x="1449.9" y="578.7"/><use href="#xm" x="1455.8" y="565.6"/><use href="#xm" x="1461.8" y="561.3"/><use href="#xm" x="1467.7" y="568.1"/><use href="#xm" x="1473.6" y="567.2"/><use href="#xm" x="1479.5" y="570.6"/><use href="#xm" x="1485.4" y="574.9"/><use href="#xm" x="1491.3" y="558.8"/><use href="#xm" x="1497.2" y="574.4"/><use href="#xm" x="1503.2" y="569.8"/><use href="#xm" x="1509.1" y="557.9"/><use href="#xm" x="1515.0" y="563.9"/><use href="#xm" x="1520.9" y="561.3"/><use href="#xm" x="1526.8" y="552.9"/><use href="#xm" x="1532.7" y="563.9"/><use href="#xm" x="1538.6" y="555.0"/><use href="#xm" x="1544.6" y="577.8"/><use href="#xm" x="1550.5" y="575.7"/><use href="#xm" x="1556.4" y="570.6"/><use href="#xm" x="1562.3" y="570.6"/><use href="#xm" x="1568.2" y="573.2"/><use href="#xm" x="1574.1" y="572.3"/><use href="#xm" x="1580.0" y="575.7"/><use href="#xm" x="1586.0" y="578.3"/><use href="#xm" x="1591.9" y="572.3"/><use href="#xm" x="1597.8" y="575.7"/><use href="#xm" x="1603.7" y="573.2"/>
</g>
<path d="M1402.3 433.4H1757.05V621.0H1402.3ZM1402.3 437.1h8.0M1402.3 529.0h8.0M1520.6 621.0v-8.0M1638.9 621.0v-8.0" fill="none" stroke="#111" stroke-width="1.4"/>
<text transform="translate(1402.30 643.10) scale(0.765 1)" font-size="24.4" text-anchor="middle" stroke="#000" stroke-width="0.5">0</text>
<text transform="translate(1520.60 643.10) scale(0.765 1)" font-size="24.4" text-anchor="middle" stroke="#000" stroke-width="0.5">100</text>
<text transform="translate(1638.90 643.10) scale(0.765 1)" font-size="24.4" text-anchor="middle" stroke="#000" stroke-width="0.5">200</text>
<text transform="translate(1757.20 643.10) scale(0.765 1)" font-size="24.4" text-anchor="middle" stroke="#000" stroke-width="0.5">300</text>
<text transform="translate(1396.50 629.60) scale(0.765 1)" font-size="24.4" text-anchor="end" stroke="#000" stroke-width="0.5">0</text>
<text transform="translate(1396.50 537.65) scale(0.765 1)" font-size="24.4" text-anchor="end" stroke="#000" stroke-width="0.5">5000</text>
<text transform="translate(1396.50 445.70) scale(0.765 1)" font-size="24.4" text-anchor="end" stroke="#000" stroke-width="0.5">10000</text>
<text x="1337.85" y="405.8" font-size="30.8" font-weight="bold">H</text>
</g>
<g id="pI">
<g clip-path="url(#cI)">
<path d="M87.7 894.9 L88.7 894.9 L89.7 894.9 L90.7 894.9 L91.7 894.9 L92.7 894.9 L93.7 894.9 L94.7 894.9 L95.7 894.9 L96.7 894.9 L97.7 894.9 L98.7 894.9 L99.7 894.9 L100.7 894.9 L101.7 894.9 L102.7 894.9 L103.7 894.9 L104.7 894.9 L105.7 894.9 L106.7 894.9 L107.7 894.9 L108.7 894.9 L109.7 894.9 L110.7 894.9 L111.7 894.9 L112.7 894.9 L113.7 894.9 L114.7 894.9 L115.7 894.9 L116.7 894.9 L117.7 894.9 L118.7 894.9 L119.7 894.9 L120.7 894.9 L121.7 894.9 L122.7 894.9 L123.7 894.9 L124.7 894.9 L125.7 894.9 L126.7 894.9 L127.7 894.9 L128.7 894.9 L129.7 894.9 L130.7 894.9 L131.7 894.9 L132.7 894.9 L133.7 894.9 L134.7 894.9 L135.7 894.9 L136.7 894.9 L137.7 894.9 L138.7 894.9 L139.7 894.9 L140.7 894.9 L141.7 894.9 L142.7 894.9 L143.7 894.9 L144.7 894.9 L145.7 894.9 L146.7 894.9 L147.7 894.9 L148.7 894.9 L149.7 894.9 L150.7 894.9 L151.7 894.9 L152.7 894.9 L153.7 894.9 L154.7 894.9 L155.7 894.9 L156.7 894.9 L157.7 894.9 L158.7 894.9 L159.7 894.9 L160.7 894.9 L161.7 894.9 L162.7 894.9 L163.7 894.8 L164.7 894.8 L165.7 894.8 L166.7 894.8 L167.7 894.8 L168.7 894.8 L169.7 894.8 L170.7 894.8 L171.7 894.8 L172.7 894.8 L173.7 894.8 L174.7 894.8 L175.7 894.8 L176.7 894.8 L177.7 894.7 L178.7 894.7 L179.7 894.7 L180.7 894.7 L181.7 894.7 L182.7 894.7 L183.7 894.6 L184.7 894.6 L185.7 894.6 L186.7 894.6 L187.7 894.6 L188.7 894.5 L189.7 894.5 L190.7 894.5 L191.7 894.4 L192.7 894.4 L193.7 894.3 L194.7 894.3 L195.7 894.2 L196.7 894.2 L197.7 894.1 L198.7 894.1 L199.7 894.0 L200.7 893.9 L201.7 893.8 L202.7 893.8 L203.7 893.7 L204.7 893.6 L205.7 893.5 L206.7 893.3 L207.7 893.2 L208.7 893.1 L209.7 892.9 L210.7 892.8 L211.7 892.6 L212.7 892.4 L213.7 892.2 L214.7 892.0 L215.7 891.7 L216.7 891.5 L217.7 891.2 L218.7 890.9 L219.7 890.6 L220.7 890.3 L221.7 889.9 L222.7 889.5 L223.7 889.1 L224.7 888.6 L225.7 888.2 L226.7 887.6 L227.7 887.1 L228.7 886.5 L229.7 885.9 L230.7 885.2 L231.7 884.5 L232.7 883.7 L233.7 882.9 L234.7 882.0 L235.7 881.1 L236.7 880.1 L237.7 879.1 L238.7 878.0 L239.7 876.9 L240.7 875.7 L241.7 874.5 L242.7 873.1 L243.7 871.8 L244.7 870.4 L245.7 868.9 L246.7 867.4 L247.7 865.8 L248.7 864.1 L249.7 862.5 L250.7 860.7 L251.7 859.0 L252.7 857.2 L253.7 855.4 L254.7 853.6 L255.7 851.7 L256.6 849.8 L257.6 848.0 L258.6 846.1 L259.6 844.2 L260.6 842.4 L261.6 840.5 L262.6 838.7 L263.6 836.9 L264.6 835.2 L265.6 833.5 L266.6 831.8 L267.6 830.2 L268.6 828.6 L269.6 827.1 L270.6 825.6 L271.6 824.2 L272.6 822.8 L273.6 821.5 L274.6 820.3 L275.6 819.1 L276.6 818.0 L277.6 816.9 L278.6 815.9 L279.6 814.9 L280.6 814.0 L281.6 813.1 L282.6 812.3 L283.6 811.6 L284.6 810.9 L285.6 810.2 L286.6 809.6 L287.6 809.0 L288.6 808.4 L289.6 807.9 L290.6 807.4 L291.6 807.0 L292.6 806.6 L293.6 806.2 L294.6 805.8 L295.6 805.5 L296.6 805.1 L297.6 804.9 L298.6 804.6 L299.6 804.3 L300.6 804.1 L301.6 803.9 L302.6 803.7 L303.6 803.5 L304.6 803.3 L305.6 803.2 L306.6 803.0 L307.6 802.9 L308.6 802.8 L309.6 802.6 L310.6 802.5 L311.6 802.4 L312.6 802.3 L313.6 802.2 L314.6 802.2 L315.6 802.1 L316.6 802.0 L317.6 802.0 L318.6 801.9 L319.6 801.8 L320.6 801.8 L321.6 801.8 L322.6 801.7 L323.6 801.7 L324.6 801.6 L325.6 801.6 L326.6 801.6 L327.6 801.5 L328.6 801.5 L329.6 801.5 L330.6 801.5 L331.6 801.4 L332.6 801.4 L333.6 801.4 L334.6 801.4 L335.6 801.4 L336.6 801.4 L337.6 801.4 L338.6 801.3 L339.6 801.3 L340.6 801.3 L341.6 801.3 L342.6 801.3 L343.6 801.3 L344.6 801.3 L345.6 801.3 L346.6 801.3 L347.6 801.3 L348.6 801.3 L349.6 801.3 L350.6 801.3 L351.6 801.3 L352.6 801.2 L353.6 801.2 L354.6 801.2 L355.6 801.2 L356.6 801.2 L357.6 801.2 L358.6 801.2 L359.6 801.2 L360.6 801.2 L361.6 801.2 L362.6 801.2 L363.6 801.2 L364.6 801.2 L365.6 801.2 L366.6 801.2 L367.6 801.2 L368.6 801.2 L369.6 801.2 L370.6 801.2 L371.6 801.2 L372.6 801.2 L373.6 801.2 L374.6 801.2 L375.6 801.2 L376.6 801.2 L377.6 801.2 L378.6 801.2 L379.6 801.2 L380.6 801.2 L381.6 801.2 L382.6 801.2 L383.6 801.2 L384.6 801.2 L385.6 801.2 L386.6 801.2 L387.6 801.2 L388.6 801.2 L389.6 801.2 L390.6 801.2 L391.6 801.2 L392.6 801.2 L393.6 801.2 L394.6 801.2 L395.6 801.2 L396.6 801.2 L397.6 801.2 L398.6 801.2 L399.6 801.2 L400.6 801.2 L401.6 801.2 L402.6 801.2 L403.6 801.2 L404.6 801.2 L405.6 801.2 L406.6 801.2 L407.6 801.2 L408.6 801.2 L409.6 801.2 L410.6 801.2 L411.6 801.2 L412.6 801.2 L413.6 801.2 L414.6 801.2 L415.6 801.2 L416.6 801.2 L417.6 801.2 L418.6 801.2 L419.6 801.2 L420.6 801.2 L421.6 801.2 L422.6 801.2 L423.6 801.2 L424.6 801.2 L425.6 801.2 L426.6 801.2 L427.6 801.2 L428.6 801.2 L429.6 801.2 L430.6 801.2 L431.6 801.2 L432.6 801.2 L433.6 801.2 L434.6 801.2 L435.6 801.2 L436.6 801.2 L437.6 801.2 L438.6 801.2 L439.6 801.2 L440.6 801.2 L441.6 801.2" fill="none" stroke="#808080" stroke-width="2"/>
<g fill="#808080"><circle cx="87.7" cy="907.4" r="6.3"/><circle cx="99.7" cy="901.1" r="6.3"/><circle cx="111.5" cy="889.7" r="6.3"/><circle cx="123.3" cy="888.7" r="6.3"/><circle cx="135.1" cy="889.5" r="6.3"/><circle cx="146.9" cy="892.3" r="6.3"/><circle cx="158.7" cy="896.8" r="6.3"/><circle cx="170.7" cy="896.2" r="6.3"/><circle cx="182.5" cy="887.5" r="6.3"/><circle cx="194.3" cy="895.6" r="6.3"/><circle cx="206.1" cy="901.1" r="6.3"/><circle cx="217.9" cy="894.2" r="6.3"/><circle cx="229.7" cy="898.6" r="6.3"/><circle cx="241.5" cy="852.9" r="6.3"/><circle cx="253.3" cy="860.4" r="6.3"/><circle cx="265.1" cy="848.2" r="6.3"/><circle cx="276.9" cy="822.6" r="6.3"/><circle cx="288.9" cy="802.0" r="6.3"/><circle cx="300.7" cy="781.9" r="6.3"/><circle cx="312.5" cy="791.9" r="6.3"/><circle cx="324.3" cy="825.8" r="6.3"/><circle cx="336.1" cy="816.1" r="6.3"/><circle cx="348.1" cy="785.4" r="6.3"/><circle cx="359.9" cy="796.5" r="6.3"/><circle cx="371.7" cy="818.3" r="6.3"/></g>
</g>
<path d="M87.65 773.6H442.4V938.45H87.65ZM87.65 776.8h8.0M87.65 857.6h8.0M206.0 938.45v-8.0M324.2 938.45v-8.0" fill="none" stroke="#111" stroke-width="1.4"/>
<text transform="translate(87.65 960.55) scale(0.765 1)" font-size="24.4" text-anchor="middle" stroke="#000" stroke-width="0.5">0</text>
<text transform="translate(205.95 960.55) scale(0.765 1)" font-size="24.4" text-anchor="middle" stroke="#000" stroke-width="0.5">100</text>
<text transform="translate(324.25 960.55) scale(0.765 1)" font-size="24.4" text-anchor="middle" stroke="#000" stroke-width="0.5">200</text>
<text transform="translate(442.55 960.55) scale(0.765 1)" font-size="24.4" text-anchor="middle" stroke="#000" stroke-width="0.5">300</text>
<text transform="translate(81.85 947.05) scale(0.765 1)" font-size="24.4" text-anchor="end" stroke="#000" stroke-width="0.5">0</text>
<text transform="translate(81.85 866.23) scale(0.765 1)" font-size="24.4" text-anchor="end" stroke="#000" stroke-width="0.5">5000</text>
<text transform="translate(81.85 785.40) scale(0.765 1)" font-size="24.4" text-anchor="end" stroke="#000" stroke-width="0.5">10000</text>
<text x="35.75" y="743.8" font-size="30.8" font-weight="bold">I</text>
<text transform="translate(17.4 856.6) rotate(-90) scale(0.765 1)" font-size="25.0" text-anchor="middle" stroke="#000" stroke-width="0.5">Aggregate size (<tspan font-style="italic" textLength="18.5" lengthAdjust="spacingAndGlyphs">μ</tspan>m)</text>
<text transform="translate(265.02 988.00) scale(0.765 1)" font-size="24.4" text-anchor="middle" stroke="#000" stroke-width="0.5">Time (min)</text>
</g>
<g id="pJ">
<g clip-path="url(#cJ)">
</g>
<path d="M525.9 773.6H880.65V938.45H525.9ZM525.9 776.8h8.0M525.9 857.6h8.0M644.2 938.45v-8.0M762.5 938.45v-8.0" fill="none" stroke="#111" stroke-width="1.4"/>
<text transform="translate(525.90 960.55) scale(0.765 1)" font-size="24.4" text-anchor="middle" stroke="#000" stroke-width="0.5">0</text>
<text transform="translate(644.20 960.55) scale(0.765 1)" font-size="24.4" text-anchor="middle" stroke="#000" stroke-width="0.5">100</text>
<text transform="translate(762.50 960.55) scale(0.765 1)" font-size="24.4" text-anchor="middle" stroke="#000" stroke-width="0.5">200</text>
<text transform="translate(880.80 960.55) scale(0.765 1)" font-size="24.4" text-anchor="middle" stroke="#000" stroke-width="0.5">300</text>
<text transform="translate(520.10 947.05) scale(0.765 1)" font-size="24.4" text-anchor="end" stroke="#000" stroke-width="0.5">0</text>
<text transform="translate(520.10 866.23) scale(0.765 1)" font-size="24.4" text-anchor="end" stroke="#000" stroke-width="0.5">5000</text>
<text transform="translate(520.10 785.40) scale(0.765 1)" font-size="24.4" text-anchor="end" stroke="#000" stroke-width="0.5">10000</text>
<text x="468.95" y="743.8" font-size="30.8" font-weight="bold">J</text>
<text transform="translate(703.27 988.00) scale(0.765 1)" font-size="24.4" text-anchor="middle" stroke="#000" stroke-width="0.5">Time (min)</text>
<text transform="translate(703.27 862.10) scale(0.765 1)" font-size="24.4" text-anchor="middle" stroke="#000" stroke-width="0.5">Null</text>
</g>
<g id="pK">
<g clip-path="url(#cK)">
<path d="M964.0 895.3 L965.0 895.3 L966.0 895.3 L967.0 895.3 L968.0 895.3 L969.0 895.3 L970.0 895.3 L971.0 895.3 L972.0 895.3 L973.0 895.3 L974.0 895.3 L975.0 895.3 L976.0 895.3 L977.0 895.3 L978.0 895.2 L979.0 895.2 L980.0 895.2 L981.0 895.1 L982.0 895.1 L983.0 895.0 L984.0 894.9 L985.0 894.8 L986.0 894.6 L987.0 894.4 L988.0 894.1 L989.0 893.7 L990.0 893.2 L991.0 892.6 L992.0 891.7 L993.0 890.6 L994.0 889.2 L995.0 887.5 L996.0 885.5 L997.0 883.2 L998.0 880.5 L999.0 877.6 L1000.0 874.5 L1001.0 871.5 L1002.0 868.6 L1003.0 865.9 L1004.0 863.6 L1005.0 861.6 L1006.0 859.9 L1007.0 858.5 L1008.0 857.4 L1009.0 856.5 L1010.0 855.9 L1011.0 855.4 L1012.0 855.0 L1013.0 854.7 L1014.0 854.5 L1015.0 854.3 L1016.0 854.2 L1017.0 854.1 L1018.0 854.0 L1019.0 854.0 L1020.0 853.9 L1021.0 853.9 L1022.0 853.9 L1023.0 853.8 L1024.0 853.8 L1025.0 853.8 L1026.0 853.8 L1027.0 853.8 L1028.0 853.8 L1029.0 853.8 L1030.0 853.8 L1031.0 853.8 L1032.0 853.8 L1033.0 853.8 L1034.0 853.8 L1035.0 853.8 L1036.0 853.8 L1037.0 853.8 L1038.0 853.8 L1039.0 853.8 L1040.0 853.8 L1041.0 853.8 L1042.0 853.8 L1043.0 853.8 L1044.0 853.8 L1045.0 853.8 L1046.0 853.8 L1047.0 853.8 L1048.0 853.8 L1049.0 853.8 L1050.0 853.8 L1051.0 853.8 L1052.0 853.8 L1053.0 853.8 L1054.0 853.8 L1055.0 853.8 L1056.0 853.8 L1057.0 853.8 L1058.0 853.8 L1059.0 853.8 L1060.0 853.8 L1061.0 853.8 L1062.0 853.8 L1063.0 853.8 L1064.0 853.8 L1065.0 853.8 L1066.0 853.8 L1067.0 853.8 L1068.0 853.8 L1069.0 853.8 L1070.0 853.8 L1071.0 853.8 L1072.0 853.8 L1073.0 853.8 L1074.0 853.8 L1075.0 853.8 L1076.0 853.8 L1077.0 853.8 L1078.0 853.8 L1079.0 853.8 L1080.0 853.8 L1081.0 853.8 L1082.0 853.8 L1083.0 853.8 L1084.0 853.8 L1085.0 853.8 L1086.0 853.8 L1087.0 853.8 L1088.0 853.8 L1089.0 853.8 L1090.0 853.8 L1091.0 853.8 L1092.0 853.8 L1093.0 853.8 L1094.0 853.8 L1095.0 853.8 L1096.0 853.8 L1097.0 853.8 L1098.0 853.8 L1099.0 853.8 L1100.0 853.8 L1101.0 853.8 L1102.0 853.8 L1103.0 853.8 L1104.0 853.8 L1105.0 853.8 L1106.0 853.8 L1107.0 853.8 L1108.0 853.8 L1109.0 853.8 L1110.0 853.8 L1111.0 853.8 L1112.0 853.8 L1113.0 853.8 L1114.0 853.8 L1115.0 853.8 L1116.0 853.8 L1117.0 853.8 L1118.0 853.8 L1119.0 853.8 L1120.0 853.8 L1121.0 853.8 L1122.0 853.8 L1123.0 853.8 L1124.0 853.8 L1125.0 853.8 L1126.0 853.8 L1127.0 853.8 L1128.0 853.8 L1129.0 853.8 L1130.0 853.8 L1131.0 853.8 L1132.0 853.8 L1133.0 853.8 L1134.0 853.8 L1135.0 853.8 L1136.0 853.8 L1137.0 853.8 L1138.0 853.8 L1139.0 853.8 L1140.0 853.8 L1141.0 853.8 L1142.0 853.8 L1143.0 853.8 L1144.0 853.8 L1145.0 853.8 L1146.0 853.8 L1147.0 853.8 L1148.0 853.8 L1149.0 853.8 L1150.0 853.8 L1151.0 853.8 L1152.0 853.8 L1153.0 853.8 L1154.0 853.8 L1155.0 853.8 L1156.0 853.8 L1157.0 853.8 L1158.0 853.8 L1159.0 853.8 L1160.0 853.8 L1161.0 853.8 L1162.0 853.8 L1163.0 853.8 L1164.0 853.8 L1165.0 853.8 L1166.0 853.8 L1167.0 853.8 L1168.0 853.8 L1169.0 853.8 L1170.0 853.8 L1171.0 853.8 L1172.0 853.8 L1173.0 853.8 L1174.0 853.8 L1175.0 853.8 L1176.0 853.8 L1177.0 853.8 L1178.0 853.8 L1179.0 853.8 L1180.0 853.8 L1181.0 853.8 L1182.0 853.8 L1183.0 853.8 L1184.0 853.8 L1185.0 853.8 L1186.0 853.8 L1187.0 853.8 L1188.0 853.8 L1189.0 853.8 L1190.0 853.8 L1191.0 853.8 L1192.0 853.8 L1193.0 853.8 L1194.0 853.8 L1195.0 853.8 L1196.0 853.8 L1197.0 853.8 L1198.0 853.8 L1199.0 853.8 L1200.0 853.8 L1201.0 853.8 L1202.0 853.8 L1203.0 853.8 L1204.0 853.8 L1205.0 853.8 L1206.0 853.8 L1207.0 853.8 L1208.0 853.8 L1209.0 853.8 L1210.0 853.8 L1211.0 853.8 L1212.0 853.8 L1213.0 853.8 L1214.0 853.8 L1215.0 853.8 L1216.0 853.8 L1217.0 853.8 L1218.0 853.8 L1219.0 853.8 L1220.0 853.8 L1221.0 853.8 L1222.0 853.8 L1223.0 853.8 L1224.0 853.8 L1225.0 853.8 L1226.0 853.8 L1227.0 853.8 L1228.0 853.8 L1229.0 853.8 L1230.0 853.8 L1231.0 853.8 L1232.0 853.8 L1233.0 853.8 L1234.0 853.8 L1235.0 853.8 L1236.0 853.8 L1237.0 853.8 L1238.0 853.8 L1239.0 853.8 L1240.0 853.8 L1241.0 853.8 L1242.0 853.8 L1243.0 853.8 L1244.0 853.8 L1245.0 853.8 L1246.0 853.8 L1247.0 853.8 L1248.0 853.8 L1249.0 853.8 L1250.0 853.8 L1251.0 853.8 L1252.0 853.8 L1253.0 853.8 L1254.0 853.8 L1255.0 853.8 L1256.0 853.8 L1257.0 853.8 L1258.0 853.8 L1259.0 853.8 L1260.0 853.8 L1261.0 853.8 L1262.0 853.8 L1263.0 853.8 L1264.0 853.8 L1265.0 853.8 L1266.0 853.8 L1267.0 853.8 L1268.0 853.8 L1269.0 853.8 L1270.0 853.8 L1271.0 853.8 L1272.0 853.8 L1273.0 853.8 L1274.0 853.8 L1275.0 853.8 L1276.0 853.8 L1277.0 853.8 L1278.0 853.8 L1279.0 853.8 L1280.0 853.8 L1281.0 853.8 L1282.0 853.8 L1283.0 853.8 L1284.0 853.8 L1285.0 853.8 L1286.0 853.8 L1287.0 853.8 L1288.0 853.8 L1289.0 853.8 L1290.0 853.8 L1291.0 853.8 L1292.0 853.8 L1293.0 853.8 L1294.0 853.8 L1295.0 853.8 L1296.0 853.8 L1297.0 853.8 L1298.0 853.8 L1299.0 853.8 L1300.0 853.8 L1301.0 853.8 L1302.0 853.8 L1303.0 853.8 L1304.0 853.8 L1305.0 853.8 L1306.0 853.8 L1307.0 853.8 L1308.0 853.8 L1309.0 853.8 L1310.0 853.8 L1311.0 853.8 L1312.0 853.8 L1313.0 853.8 L1314.0 853.8 L1315.0 853.8 L1316.0 853.8 L1317.0 853.8 L1318.0 853.8" fill="none" stroke="#808080" stroke-width="2"/>
<g fill="#808080"><circle cx="964.3" cy="896.0" r="6.3"/><circle cx="970.2" cy="895.1" r="6.3"/><circle cx="976.1" cy="894.7" r="6.3"/><circle cx="982.0" cy="896.4" r="6.3"/><circle cx="988.0" cy="907.8" r="6.3"/><circle cx="993.9" cy="894.7" r="6.3"/><circle cx="999.8" cy="869.1" r="6.3"/><circle cx="1005.7" cy="860.2" r="6.3"/><circle cx="1011.6" cy="858.5" r="6.3"/><circle cx="1017.5" cy="845.0" r="6.3"/><circle cx="1023.4" cy="840.3" r="6.3"/><circle cx="1029.4" cy="828.0" r="6.3"/><circle cx="1035.3" cy="842.8" r="6.3"/><circle cx="1041.2" cy="849.6" r="6.3"/><circle cx="1047.1" cy="838.2" r="6.3"/><circle cx="1053.0" cy="853.8" r="6.3"/><circle cx="1058.9" cy="859.8" r="6.3"/><circle cx="1064.9" cy="846.2" r="6.3"/><circle cx="1070.8" cy="851.7" r="6.3"/><circle cx="1076.7" cy="851.7" r="6.3"/><circle cx="1082.6" cy="854.3" r="6.3"/><circle cx="1088.5" cy="853.4" r="6.3"/><circle cx="1094.4" cy="857.6" r="6.3"/><circle cx="1100.3" cy="857.6" r="6.3"/><circle cx="1106.3" cy="856.8" r="6.3"/><circle cx="1112.2" cy="858.0" r="6.3"/><circle cx="1118.1" cy="857.7" r="6.3"/><circle cx="1124.0" cy="859.3" r="6.3"/><circle cx="1129.9" cy="859.4" r="6.3"/><circle cx="1135.8" cy="856.0" r="6.3"/><circle cx="1141.8" cy="855.1" r="6.3"/><circle cx="1147.7" cy="856.7" r="6.3"/><circle cx="1153.6" cy="850.5" r="6.3"/><circle cx="1159.5" cy="855.0" r="6.3"/><circle cx="1165.4" cy="859.3" r="6.3"/><circle cx="1171.3" cy="861.0" r="6.3"/><circle cx="1177.2" cy="857.6" r="6.3"/><circle cx="1183.2" cy="863.5" r="6.3"/><circle cx="1189.1" cy="853.4" r="6.3"/><circle cx="1195.0" cy="861.0" r="6.3"/><circle cx="1200.9" cy="859.3" r="6.3"/><circle cx="1206.8" cy="850.5" r="6.3"/><circle cx="1212.7" cy="855.9" r="6.3"/><circle cx="1218.6" cy="849.6" r="6.3"/><circle cx="1224.6" cy="855.0" r="6.3"/><circle cx="1230.5" cy="859.3" r="6.3"/><circle cx="1236.4" cy="851.7" r="6.3"/><circle cx="1242.3" cy="856.7" r="6.3"/><circle cx="1248.2" cy="847.0" r="6.3"/></g>
<path d="M964.0 902.5 L965.0 902.5 L966.0 902.5 L967.0 902.5 L968.0 902.5 L969.0 902.5 L970.0 902.5 L971.0 902.5 L972.0 902.5 L973.0 902.5 L974.0 902.5 L975.0 902.5 L976.0 902.5 L977.0 902.5 L978.0 902.5 L979.0 902.5 L980.0 902.5 L981.0 902.5 L982.0 902.5 L983.0 902.5 L984.0 902.5 L985.0 902.5 L986.0 902.5 L987.0 902.5 L988.0 902.5 L989.0 902.5 L990.0 902.5 L991.0 902.5 L992.0 902.5 L993.0 902.5 L994.0 902.5 L995.0 902.5 L996.0 902.5 L997.0 902.5 L998.0 902.5 L999.0 902.5 L1000.0 902.5 L1001.0 902.5 L1002.0 902.5 L1003.0 902.5 L1004.0 902.5 L1005.0 902.5 L1006.0 902.5 L1007.0 902.5 L1008.0 902.5 L1009.0 902.5 L1010.0 902.5 L1011.0 902.5 L1012.0 902.5 L1013.0 902.5 L1014.0 902.5 L1015.0 902.5 L1016.0 902.5 L1017.0 902.5 L1018.0 902.5 L1019.0 902.5 L1020.0 902.5 L1021.0 902.5 L1022.0 902.5 L1023.0 902.5 L1024.0 902.5 L1025.0 902.5 L1026.0 902.4 L1027.0 902.4 L1028.0 902.4 L1029.0 902.4 L1030.0 902.4 L1031.0 902.3 L1032.0 902.3 L1033.0 902.2 L1034.0 902.2 L1035.0 902.1 L1036.0 902.0 L1037.0 901.9 L1038.0 901.7 L1039.0 901.5 L1040.0 901.3 L1041.0 901.0 L1042.0 900.7 L1043.0 900.2 L1044.0 899.7 L1045.0 899.0 L1046.0 898.3 L1047.0 897.4 L1048.0 896.3 L1049.0 895.0 L1050.0 893.5 L1051.0 891.9 L1052.0 890.0 L1053.0 888.0 L1054.0 885.8 L1055.0 883.6 L1056.0 881.3 L1057.0 879.0 L1058.0 876.8 L1059.0 874.7 L1060.0 872.7 L1061.0 870.9 L1062.0 869.4 L1063.0 868.0 L1064.0 866.8 L1065.0 865.8 L1066.0 864.9 L1067.0 864.2 L1068.0 863.6 L1069.0 863.1 L1070.0 862.7 L1071.0 862.4 L1072.0 862.1 L1073.0 861.9 L1074.0 861.7 L1075.0 861.6 L1076.0 861.5 L1077.0 861.4 L1078.0 861.3 L1079.0 861.2 L1080.0 861.2 L1081.0 861.2 L1082.0 861.1 L1083.0 861.1 L1084.0 861.1 L1085.0 861.1 L1086.0 861.1 L1087.0 861.0 L1088.0 861.0 L1089.0 861.0 L1090.0 861.0 L1091.0 861.0 L1092.0 861.0 L1093.0 861.0 L1094.0 861.0 L1095.0 861.0 L1096.0 861.0 L1097.0 861.0 L1098.0 861.0 L1099.0 861.0 L1100.0 861.0 L1101.0 861.0 L1102.0 861.0 L1103.0 861.0 L1104.0 861.0 L1105.0 861.0 L1106.0 861.0 L1107.0 861.0 L1108.0 861.0 L1109.0 861.0 L1110.0 861.0 L1111.0 861.0 L1112.0 861.0 L1113.0 861.0 L1114.0 861.0 L1115.0 861.0 L1116.0 861.0 L1117.0 861.0 L1118.0 861.0 L1119.0 861.0 L1120.0 861.0 L1121.0 861.0 L1122.0 861.0 L1123.0 861.0 L1124.0 861.0 L1125.0 861.0 L1126.0 861.0 L1127.0 861.0 L1128.0 861.0 L1129.0 861.0 L1130.0 861.0 L1131.0 861.0 L1132.0 861.0 L1133.0 861.0 L1134.0 861.0 L1135.0 861.0 L1136.0 861.0 L1137.0 861.0 L1138.0 861.0 L1139.0 861.0 L1140.0 861.0 L1141.0 861.0 L1142.0 861.0 L1143.0 861.0 L1144.0 861.0 L1145.0 861.0 L1146.0 861.0 L1147.0 861.0 L1148.0 861.0 L1149.0 861.0 L1150.0 861.0 L1151.0 861.0 L1152.0 861.0 L1153.0 861.0 L1154.0 861.0 L1155.0 861.0 L1156.0 861.0 L1157.0 861.0 L1158.0 861.0 L1159.0 861.0 L1160.0 861.0 L1161.0 861.0 L1162.0 861.0 L1163.0 861.0 L1164.0 861.0 L1165.0 861.0 L1166.0 861.0 L1167.0 861.0 L1168.0 861.0 L1169.0 861.0 L1170.0 861.0 L1171.0 861.0 L1172.0 861.0 L1173.0 861.0 L1174.0 861.0 L1175.0 861.0 L1176.0 861.0 L1177.0 861.0 L1178.0 861.0 L1179.0 861.0 L1180.0 861.0 L1181.0 861.0 L1182.0 861.0 L1183.0 861.0 L1184.0 861.0 L1185.0 861.0 L1186.0 861.0 L1187.0 861.0 L1188.0 861.0 L1189.0 861.0 L1190.0 861.0 L1191.0 861.0 L1192.0 861.0 L1193.0 861.0 L1194.0 861.0 L1195.0 861.0 L1196.0 861.0 L1197.0 861.0 L1198.0 861.0 L1199.0 861.0 L1200.0 861.0 L1201.0 861.0 L1202.0 861.0 L1203.0 861.0 L1204.0 861.0 L1205.0 861.0 L1206.0 861.0 L1207.0 861.0 L1208.0 861.0 L1209.0 861.0 L1210.0 861.0 L1211.0 861.0 L1212.0 861.0 L1213.0 861.0 L1214.0 861.0 L1215.0 861.0 L1216.0 861.0 L1217.0 861.0 L1218.0 861.0 L1219.0 861.0 L1220.0 861.0 L1221.0 861.0 L1222.0 861.0 L1223.0 861.0 L1224.0 861.0 L1225.0 861.0 L1226.0 861.0 L1227.0 861.0 L1228.0 861.0 L1229.0 861.0 L1230.0 861.0 L1231.0 861.0 L1232.0 861.0 L1233.0 861.0 L1234.0 861.0 L1235.0 861.0 L1236.0 861.0 L1237.0 861.0 L1238.0 861.0 L1239.0 861.0 L1240.0 861.0 L1241.0 861.0 L1242.0 861.0 L1243.0 861.0 L1244.0 861.0 L1245.0 861.0 L1246.0 861.0 L1247.0 861.0 L1248.0 861.0 L1249.0 861.0 L1250.0 861.0 L1251.0 861.0 L1252.0 861.0 L1253.0 861.0 L1254.0 861.0 L1255.0 861.0 L1256.0 861.0 L1257.0 861.0 L1258.0 861.0 L1259.0 861.0 L1260.0 861.0 L1261.0 861.0 L1262.0 861.0 L1263.0 861.0 L1264.0 861.0 L1265.0 861.0 L1266.0 861.0 L1267.0 861.0 L1268.0 861.0 L1269.0 861.0 L1270.0 861.0 L1271.0 861.0 L1272.0 861.0 L1273.0 861.0 L1274.0 861.0 L1275.0 861.0 L1276.0 861.0 L1277.0 861.0 L1278.0 861.0 L1279.0 861.0 L1280.0 861.0 L1281.0 861.0 L1282.0 861.0 L1283.0 861.0 L1284.0 861.0 L1285.0 861.0 L1286.0 861.0 L1287.0 861.0 L1288.0 861.0 L1289.0 861.0 L1290.0 861.0 L1291.0 861.0 L1292.0 861.0 L1293.0 861.0 L1294.0 861.0 L1295.0 861.0 L1296.0 861.0 L1297.0 861.0 L1298.0 861.0 L1299.0 861.0 L1300.0 861.0 L1301.0 861.0 L1302.0 861.0 L1303.0 861.0 L1304.0 861.0 L1305.0 861.0 L1306.0 861.0 L1307.0 861.0 L1308.0 861.0 L1309.0 861.0 L1310.0 861.0 L1311.0 861.0 L1312.0 861.0 L1313.0 861.0 L1314.0 861.0 L1315.0 861.0 L1316.0 861.0 L1317.0 861.0 L1318.0 861.0" fill="none" stroke="#000" stroke-width="2.1" stroke-dasharray="8.4 3.85" stroke-dashoffset="-6.3"/>
<use href="#xm" x="964.3" y="897.7"/><use href="#xm" x="970.2" y="907.0"/><use href="#xm" x="976.1" y="906.5"/><use href="#xm" x="982.0" y="898.5"/><use href="#xm" x="988.0" y="907.8"/><use href="#xm" x="993.9" y="905.7"/><use href="#xm" x="999.8" y="905.3"/><use href="#xm" x="1005.7" y="906.1"/><use href="#xm" x="1011.6" y="899.3"/><use href="#xm" x="1017.5" y="896.4"/><use href="#xm" x="1023.4" y="901.9"/><use href="#xm" x="1029.4" y="909.9"/><use href="#xm" x="1035.3" y="900.6"/><use href="#xm" x="1041.2" y="901.5"/><use href="#xm" x="1047.1" y="894.7"/><use href="#xm" x="1053.0" y="890.5"/><use href="#xm" x="1058.9" y="876.5"/><use href="#xm" x="1064.9" y="865.5"/><use href="#xm" x="1070.8" y="865.5"/><use href="#xm" x="1076.7" y="874.8"/><use href="#xm" x="1082.6" y="847.5"/><use href="#xm" x="1088.5" y="863.2"/><use href="#xm" x="1094.4" y="847.0"/><use href="#xm" x="1100.3" y="868.6"/><use href="#xm" x="1106.3" y="863.5"/><use href="#xm" x="1112.2" y="862.7"/><use href="#xm" x="1118.1" y="866.0"/><use href="#xm" x="1124.0" y="870.3"/><use href="#xm" x="1129.9" y="859.3"/><use href="#xm" x="1135.8" y="839.8"/><use href="#xm" x="1141.8" y="866.9"/><use href="#xm" x="1147.7" y="865.2"/><use href="#xm" x="1153.6" y="855.0"/><use href="#xm" x="1159.5" y="850.4"/><use href="#xm" x="1165.4" y="868.6"/><use href="#xm" x="1171.3" y="858.4"/><use href="#xm" x="1177.2" y="866.0"/><use href="#xm" x="1183.2" y="853.3"/><use href="#xm" x="1189.1" y="867.3"/><use href="#xm" x="1195.0" y="861.4"/><use href="#xm" x="1200.9" y="865.2"/><use href="#xm" x="1206.8" y="864.6"/><use href="#xm" x="1212.7" y="864.3"/><use href="#xm" x="1218.6" y="863.5"/><use href="#xm" x="1224.6" y="866.9"/><use href="#xm" x="1230.5" y="860.1"/><use href="#xm" x="1236.4" y="860.1"/><use href="#xm" x="1242.3" y="866.9"/><use href="#xm" x="1248.2" y="846.6"/>
</g>
<path d="M964.0 773.6H1318.75V938.45H964.0ZM964.0 776.8h8.0M964.0 857.6h8.0M1082.3 938.45v-8.0M1200.6 938.45v-8.0" fill="none" stroke="#111" stroke-width="1.4"/>
<text transform="translate(964.00 960.55) scale(0.765 1)" font-size="24.4" text-anchor="middle" stroke="#000" stroke-width="0.5">0</text>
<text transform="translate(1082.30 960.55) scale(0.765 1)" font-size="24.4" text-anchor="middle" stroke="#000" stroke-width="0.5">100</text>
<text transform="translate(1200.60 960.55) scale(0.765 1)" font-size="24.4" text-anchor="middle" stroke="#000" stroke-width="0.5">200</text>
<text transform="translate(1318.90 960.55) scale(0.765 1)" font-size="24.4" text-anchor="middle" stroke="#000" stroke-width="0.5">300</text>
<text transform="translate(958.20 947.05) scale(0.765 1)" font-size="24.4" text-anchor="end" stroke="#000" stroke-width="0.5">0</text>
<text transform="translate(958.20 866.23) scale(0.765 1)" font-size="24.4" text-anchor="end" stroke="#000" stroke-width="0.5">5000</text>
<text transform="translate(958.20 785.40) scale(0.765 1)" font-size="24.4" text-anchor="end" stroke="#000" stroke-width="0.5">10000</text>
<text x="903.25" y="743.8" font-size="30.8" font-weight="bold">K</text>
<text transform="translate(1141.38 988.00) scale(0.765 1)" font-size="24.4" text-anchor="middle" stroke="#000" stroke-width="0.5">Time (min)</text>
</g>
<g id="pL">
<g clip-path="url(#cL)">
<path d="M1402.3 892.9 L1403.3 892.9 L1404.3 892.9 L1405.3 892.9 L1406.3 892.9 L1407.3 892.9 L1408.3 892.9 L1409.3 892.9 L1410.3 892.9 L1411.3 892.9 L1412.3 892.9 L1413.3 892.9 L1414.3 892.9 L1415.3 892.9 L1416.3 892.9 L1417.3 892.9 L1418.3 892.9 L1419.3 892.9 L1420.3 892.9 L1421.3 892.9 L1422.3 892.7 L1423.3 892.2 L1424.3 890.3 L1425.3 886.0 L1426.3 881.2 L1427.3 878.9 L1428.3 878.2 L1429.3 878.1 L1430.3 878.0 L1431.3 878.0 L1432.3 878.0 L1433.3 878.0 L1434.3 878.0 L1435.3 878.0 L1436.3 878.0 L1437.3 878.0 L1438.3 878.0 L1439.3 878.0 L1440.3 878.0 L1441.3 878.0 L1442.3 878.0 L1443.3 878.0 L1444.3 878.0 L1445.3 878.0 L1446.3 878.0 L1447.3 878.0 L1448.3 878.0 L1449.3 878.0 L1450.3 878.0 L1451.3 878.0 L1452.3 878.0 L1453.3 878.0 L1454.3 878.0 L1455.3 878.0 L1456.3 878.0 L1457.3 878.0 L1458.3 878.0 L1459.3 878.0 L1460.3 878.0 L1461.3 878.0 L1462.3 878.0 L1463.3 878.0 L1464.3 878.0 L1465.3 878.0 L1466.3 878.0 L1467.3 878.0 L1468.3 878.0 L1469.3 878.0 L1470.3 878.0 L1471.3 878.0 L1472.3 878.0 L1473.3 878.0 L1474.3 878.0 L1475.3 878.0 L1476.3 878.0 L1477.3 878.0 L1478.3 878.0 L1479.3 878.0 L1480.3 878.0 L1481.3 878.0 L1482.3 878.0 L1483.3 878.0 L1484.3 878.0 L1485.3 878.0 L1486.3 878.0 L1487.3 878.0 L1488.3 878.0 L1489.3 878.0 L1490.3 878.0 L1491.3 878.0 L1492.3 878.0 L1493.3 878.0 L1494.3 878.0 L1495.3 878.0 L1496.3 878.0 L1497.3 878.0 L1498.3 878.0 L1499.3 878.0 L1500.3 878.0 L1501.3 878.0 L1502.3 878.0 L1503.3 878.0 L1504.3 878.0 L1505.3 878.0 L1506.3 878.0 L1507.3 878.0 L1508.3 878.0 L1509.3 878.0 L1510.3 878.0 L1511.3 878.0 L1512.3 878.0 L1513.3 878.0 L1514.3 878.0 L1515.3 878.0 L1516.3 878.0 L1517.3 878.0 L1518.3 878.0 L1519.3 878.0 L1520.3 878.0 L1521.3 878.0 L1522.3 878.0 L1523.3 878.0 L1524.3 878.0 L1525.3 878.0 L1526.3 878.0 L1527.3 878.0 L1528.3 878.0 L1529.3 878.0 L1530.3 878.0 L1531.3 878.0 L1532.3 878.0 L1533.3 878.0 L1534.3 878.0 L1535.3 878.0 L1536.3 878.0 L1537.3 878.0 L1538.3 878.0 L1539.3 878.0 L1540.3 878.0 L1541.3 878.0 L1542.3 878.0 L1543.3 878.0 L1544.3 878.0 L1545.3 878.0 L1546.3 878.0 L1547.3 878.0 L1548.3 878.0 L1549.3 878.0 L1550.3 878.0 L1551.3 878.0 L1552.3 878.0 L1553.3 878.0 L1554.3 878.0 L1555.3 878.0 L1556.3 878.0 L1557.3 878.0 L1558.3 878.0 L1559.3 878.0 L1560.3 878.0 L1561.3 878.0 L1562.3 878.0 L1563.3 878.0 L1564.3 878.0 L1565.3 878.0 L1566.3 878.0 L1567.3 878.0 L1568.3 878.0 L1569.3 878.0 L1570.3 878.0 L1571.3 878.0 L1572.3 878.0 L1573.3 878.0 L1574.3 878.0 L1575.3 878.0 L1576.3 878.0 L1577.3 878.0 L1578.3 878.0 L1579.3 878.0 L1580.3 878.0 L1581.3 878.0 L1582.3 878.0 L1583.3 878.0 L1584.3 878.0 L1585.3 878.0 L1586.3 878.0 L1587.3 878.0 L1588.3 878.0 L1589.3 878.0 L1590.3 878.0 L1591.3 878.0 L1592.3 878.0 L1593.3 878.0 L1594.3 878.0 L1595.3 878.0 L1596.3 878.0 L1597.3 878.0 L1598.3 878.0 L1599.3 878.0 L1600.3 878.0 L1601.3 878.0 L1602.3 878.0 L1603.3 878.0 L1604.3 878.0 L1605.3 878.0 L1606.3 878.0 L1607.3 878.0 L1608.3 878.0 L1609.3 878.0 L1610.3 878.0 L1611.3 878.0 L1612.3 878.0 L1613.3 878.0 L1614.3 878.0 L1615.3 878.0 L1616.3 878.0 L1617.3 878.0 L1618.3 878.0 L1619.3 878.0 L1620.3 878.0 L1621.3 878.0 L1622.3 878.0 L1623.3 878.0 L1624.3 878.0 L1625.3 878.0 L1626.3 878.0 L1627.3 878.0 L1628.3 878.0 L1629.3 878.0 L1630.3 878.0 L1631.3 878.0 L1632.3 878.0 L1633.3 878.0 L1634.3 878.0 L1635.3 878.0 L1636.3 878.0 L1637.3 878.0 L1638.3 878.0 L1639.3 878.0 L1640.3 878.0 L1641.3 878.0 L1642.3 878.0 L1643.3 878.0 L1644.3 878.0 L1645.3 878.0 L1646.3 878.0 L1647.3 878.0 L1648.3 878.0 L1649.3 878.0 L1650.3 878.0 L1651.3 878.0 L1652.3 878.0 L1653.3 878.0 L1654.3 878.0 L1655.3 878.0 L1656.3 878.0 L1657.3 878.0 L1658.3 878.0 L1659.3 878.0 L1660.3 878.0 L1661.3 878.0 L1662.3 878.0 L1663.3 878.0 L1664.3 878.0 L1665.3 878.0 L1666.3 878.0 L1667.3 878.0 L1668.3 878.0 L1669.3 878.0 L1670.3 878.0 L1671.3 878.0 L1672.3 878.0 L1673.3 878.0 L1674.3 878.0 L1675.3 878.0 L1676.3 878.0 L1677.3 878.0 L1678.3 878.0 L1679.3 878.0 L1680.3 878.0 L1681.3 878.0 L1682.3 878.0 L1683.3 878.0 L1684.3 878.0 L1685.3 878.0 L1686.3 878.0 L1687.3 878.0 L1688.3 878.0 L1689.3 878.0 L1690.3 878.0 L1691.3 878.0 L1692.3 878.0 L1693.3 878.0 L1694.3 878.0 L1695.3 878.0 L1696.3 878.0 L1697.3 878.0 L1698.3 878.0 L1699.3 878.0 L1700.3 878.0 L1701.3 878.0 L1702.3 878.0 L1703.3 878.0 L1704.3 878.0 L1705.3 878.0 L1706.3 878.0 L1707.3 878.0 L1708.3 878.0 L1709.3 878.0 L1710.3 878.0 L1711.3 878.0 L1712.3 878.0 L1713.3 878.0 L1714.3 878.0 L1715.3 878.0 L1716.3 878.0 L1717.3 878.0 L1718.3 878.0 L1719.3 878.0 L1720.3 878.0 L1721.3 878.0 L1722.3 878.0 L1723.3 878.0 L1724.3 878.0 L1725.3 878.0 L1726.3 878.0 L1727.3 878.0 L1728.3 878.0 L1729.3 878.0 L1730.3 878.0 L1731.3 878.0 L1732.3 878.0 L1733.3 878.0 L1734.3 878.0 L1735.3 878.0 L1736.3 878.0 L1737.3 878.0 L1738.3 878.0 L1739.3 878.0 L1740.3 878.0 L1741.3 878.0 L1742.3 878.0 L1743.3 878.0 L1744.3 878.0 L1745.3 878.0 L1746.3 878.0 L1747.3 878.0 L1748.3 878.0 L1749.3 878.0 L1750.3 878.0 L1751.3 878.0 L1752.3 878.0 L1753.3 878.0 L1754.3 878.0 L1755.3 878.0 L1756.3 878.0" fill="none" stroke="#808080" stroke-width="2"/>
<g fill="#808080"><circle cx="1402.6" cy="890.6" r="6.3"/><circle cx="1408.5" cy="882.2" r="6.3"/><circle cx="1414.4" cy="907.1" r="6.3"/><circle cx="1420.3" cy="902.0" r="6.3"/><circle cx="1426.3" cy="883.4" r="6.3"/><circle cx="1432.2" cy="876.2" r="6.3"/><circle cx="1438.1" cy="872.2" r="6.3"/><circle cx="1444.0" cy="872.4" r="6.3"/><circle cx="1449.9" cy="875.8" r="6.3"/><circle cx="1455.8" cy="876.7" r="6.3"/><circle cx="1461.8" cy="872.0" r="6.3"/><circle cx="1467.7" cy="876.7" r="6.3"/><circle cx="1473.6" cy="874.1" r="6.3"/><circle cx="1479.5" cy="869.9" r="6.3"/><circle cx="1485.4" cy="874.1" r="6.3"/><circle cx="1491.3" cy="875.0" r="6.3"/><circle cx="1497.2" cy="875.8" r="6.3"/><circle cx="1503.2" cy="880.0" r="6.3"/><circle cx="1509.1" cy="878.3" r="6.3"/><circle cx="1515.0" cy="880.9" r="6.3"/><circle cx="1520.9" cy="879.2" r="6.3"/><circle cx="1526.8" cy="879.2" r="6.3"/><circle cx="1532.7" cy="880.0" r="6.3"/><circle cx="1538.6" cy="882.7" r="6.3"/><circle cx="1544.6" cy="878.5" r="6.3"/><circle cx="1550.5" cy="878.1" r="6.3"/><circle cx="1556.4" cy="878.5" r="6.3"/><circle cx="1562.3" cy="880.2" r="6.3"/><circle cx="1568.2" cy="880.2" r="6.3"/><circle cx="1574.1" cy="881.5" r="6.3"/><circle cx="1580.0" cy="881.9" r="6.3"/><circle cx="1586.0" cy="883.6" r="6.3"/><circle cx="1591.9" cy="883.2" r="6.3"/><circle cx="1597.8" cy="881.9" r="6.3"/><circle cx="1603.7" cy="884.0" r="6.3"/><circle cx="1609.6" cy="880.2" r="6.3"/><circle cx="1615.5" cy="882.7" r="6.3"/><circle cx="1621.5" cy="882.3" r="6.3"/></g>
<path d="M1402.3 900.2 L1403.3 900.0 L1404.3 899.9 L1405.3 899.8 L1406.3 899.6 L1407.3 899.5 L1408.3 899.3 L1409.3 899.1 L1410.3 898.9 L1411.3 898.7 L1412.3 898.5 L1413.3 898.3 L1414.3 898.0 L1415.3 897.8 L1416.3 897.5 L1417.3 897.2 L1418.3 896.9 L1419.3 896.6 L1420.3 896.3 L1421.3 896.0 L1422.3 895.6 L1423.3 895.3 L1424.3 894.9 L1425.3 894.5 L1426.3 894.1 L1427.3 893.7 L1428.3 893.3 L1429.3 892.8 L1430.3 892.4 L1431.3 891.9 L1432.3 891.4 L1433.3 890.9 L1434.3 890.5 L1435.3 890.0 L1436.3 889.4 L1437.3 888.9 L1438.3 888.4 L1439.3 887.9 L1440.3 887.4 L1441.3 886.9 L1442.3 886.4 L1443.3 885.9 L1444.3 885.3 L1445.3 884.8 L1446.3 884.4 L1447.3 883.9 L1448.3 883.4 L1449.3 882.9 L1450.3 882.5 L1451.3 882.0 L1452.3 881.6 L1453.3 881.2 L1454.3 880.8 L1455.3 880.4 L1456.3 880.0 L1457.3 879.6 L1458.3 879.3 L1459.3 878.9 L1460.3 878.6 L1461.3 878.3 L1462.3 878.0 L1463.3 877.7 L1464.3 877.4 L1465.3 877.2 L1466.3 876.9 L1467.3 876.7 L1468.3 876.5 L1469.3 876.3 L1470.3 876.1 L1471.3 875.9 L1472.3 875.7 L1473.3 875.6 L1474.3 875.4 L1475.3 875.2 L1476.3 875.1 L1477.3 875.0 L1478.3 874.9 L1479.3 874.7 L1480.3 874.6 L1481.3 874.5 L1482.3 874.4 L1483.3 874.4 L1484.3 874.3 L1485.3 874.2 L1486.3 874.1 L1487.3 874.1 L1488.3 874.0 L1489.3 873.9 L1490.3 873.9 L1491.3 873.8 L1492.3 873.8 L1493.3 873.7 L1494.3 873.7 L1495.3 873.6 L1496.3 873.6 L1497.3 873.6 L1498.3 873.5 L1499.3 873.5 L1500.3 873.5 L1501.3 873.5 L1502.3 873.4 L1503.3 873.4 L1504.3 873.4 L1505.3 873.4 L1506.3 873.4 L1507.3 873.3 L1508.3 873.3 L1509.3 873.3 L1510.3 873.3 L1511.3 873.3 L1512.3 873.3 L1513.3 873.3 L1514.3 873.2 L1515.3 873.2 L1516.3 873.2 L1517.3 873.2 L1518.3 873.2 L1519.3 873.2 L1520.3 873.2 L1521.3 873.2 L1522.3 873.2 L1523.3 873.2 L1524.3 873.2 L1525.3 873.2 L1526.3 873.2 L1527.3 873.2 L1528.3 873.2 L1529.3 873.1 L1530.3 873.1 L1531.3 873.1 L1532.3 873.1 L1533.3 873.1 L1534.3 873.1 L1535.3 873.1 L1536.3 873.1 L1537.3 873.1 L1538.3 873.1 L1539.3 873.1 L1540.3 873.1 L1541.3 873.1 L1542.3 873.1 L1543.3 873.1 L1544.3 873.1 L1545.3 873.1 L1546.3 873.1 L1547.3 873.1 L1548.3 873.1 L1549.3 873.1 L1550.3 873.1 L1551.3 873.1 L1552.3 873.1 L1553.3 873.1 L1554.3 873.1 L1555.3 873.1 L1556.3 873.1 L1557.3 873.1 L1558.3 873.1 L1559.3 873.1 L1560.3 873.1 L1561.3 873.1 L1562.3 873.1 L1563.3 873.1 L1564.3 873.1 L1565.3 873.1 L1566.3 873.1 L1567.3 873.1 L1568.3 873.1 L1569.3 873.1 L1570.3 873.1 L1571.3 873.1 L1572.3 873.1 L1573.3 873.1 L1574.3 873.1 L1575.3 873.1 L1576.3 873.1 L1577.3 873.1 L1578.3 873.1 L1579.3 873.1 L1580.3 873.1 L1581.3 873.1 L1582.3 873.1 L1583.3 873.1 L1584.3 873.1 L1585.3 873.1 L1586.3 873.1 L1587.3 873.1 L1588.3 873.1 L1589.3 873.1 L1590.3 873.1 L1591.3 873.1 L1592.3 873.1 L1593.3 873.1 L1594.3 873.1 L1595.3 873.1 L1596.3 873.1 L1597.3 873.1 L1598.3 873.1 L1599.3 873.1 L1600.3 873.1 L1601.3 873.1 L1602.3 873.1 L1603.3 873.1 L1604.3 873.1 L1605.3 873.1 L1606.3 873.1 L1607.3 873.1 L1608.3 873.1 L1609.3 873.1 L1610.3 873.1 L1611.3 873.1 L1612.3 873.1 L1613.3 873.1 L1614.3 873.1 L1615.3 873.1 L1616.3 873.1 L1617.3 873.1 L1618.3 873.1 L1619.3 873.1 L1620.3 873.1 L1621.3 873.1 L1622.3 873.1 L1623.3 873.1 L1624.3 873.1 L1625.3 873.1 L1626.3 873.1 L1627.3 873.1 L1628.3 873.1 L1629.3 873.1 L1630.3 873.1 L1631.3 873.1 L1632.3 873.1 L1633.3 873.1 L1634.3 873.1 L1635.3 873.1 L1636.3 873.1 L1637.3 873.1 L1638.3 873.1 L1639.3 873.1 L1640.3 873.1 L1641.3 873.1 L1642.3 873.1 L1643.3 873.1 L1644.3 873.1 L1645.3 873.1 L1646.3 873.1 L1647.3 873.1 L1648.3 873.1 L1649.3 873.1 L1650.3 873.1 L1651.3 873.1 L1652.3 873.1 L1653.3 873.1 L1654.3 873.1 L1655.3 873.1 L1656.3 873.1 L1657.3 873.1 L1658.3 873.1 L1659.3 873.1 L1660.3 873.1 L1661.3 873.1 L1662.3 873.1 L1663.3 873.1 L1664.3 873.1 L1665.3 873.1 L1666.3 873.1 L1667.3 873.1 L1668.3 873.1 L1669.3 873.1 L1670.3 873.1 L1671.3 873.1 L1672.3 873.1 L1673.3 873.1 L1674.3 873.1 L1675.3 873.1 L1676.3 873.1 L1677.3 873.1 L1678.3 873.1 L1679.3 873.1 L1680.3 873.1 L1681.3 873.1 L1682.3 873.1 L1683.3 873.1 L1684.3 873.1 L1685.3 873.1 L1686.3 873.1 L1687.3 873.1 L1688.3 873.1 L1689.3 873.1 L1690.3 873.1 L1691.3 873.1 L1692.3 873.1 L1693.3 873.1 L1694.3 873.1 L1695.3 873.1 L1696.3 873.1 L1697.3 873.1 L1698.3 873.1 L1699.3 873.1 L1700.3 873.1 L1701.3 873.1 L1702.3 873.1 L1703.3 873.1 L1704.3 873.1 L1705.3 873.1 L1706.3 873.1 L1707.3 873.1 L1708.3 873.1 L1709.3 873.1 L1710.3 873.1 L1711.3 873.1 L1712.3 873.1 L1713.3 873.1 L1714.3 873.1 L1715.3 873.1 L1716.3 873.1 L1717.3 873.1 L1718.3 873.1 L1719.3 873.1 L1720.3 873.1 L1721.3 873.1 L1722.3 873.1 L1723.3 873.1 L1724.3 873.1 L1725.3 873.1 L1726.3 873.1 L1727.3 873.1 L1728.3 873.1 L1729.3 873.1 L1730.3 873.1 L1731.3 873.1 L1732.3 873.1 L1733.3 873.1 L1734.3 873.1 L1735.3 873.1 L1736.3 873.1 L1737.3 873.1 L1738.3 873.1 L1739.3 873.1 L1740.3 873.1 L1741.3 873.1 L1742.3 873.1 L1743.3 873.1 L1744.3 873.1 L1745.3 873.1 L1746.3 873.1 L1747.3 873.1 L1748.3 873.1 L1749.3 873.1 L1750.3 873.1 L1751.3 873.1 L1752.3 873.1 L1753.3 873.1 L1754.3 873.1 L1755.3 873.1 L1756.3 873.1" fill="none" stroke="#000" stroke-width="2.1" stroke-dasharray="8.4 3.85" stroke-dashoffset="-1.7"/>
<use href="#xm" x="1402.6" y="904.6"/><use href="#xm" x="1408.5" y="904.6"/><use href="#xm" x="1414.4" y="912.2"/><use href="#xm" x="1420.3" y="900.4"/><use href="#xm" x="1426.3" y="884.7"/><use href="#xm" x="1432.2" y="902.0"/><use href="#xm" x="1438.1" y="888.5"/><use href="#xm" x="1444.0" y="882.6"/><use href="#xm" x="1449.9" y="891.0"/><use href="#xm" x="1455.8" y="880.0"/><use href="#xm" x="1461.8" y="888.5"/><use href="#xm" x="1467.7" y="882.6"/><use href="#xm" x="1473.6" y="885.1"/><use href="#xm" x="1479.5" y="875.0"/><use href="#xm" x="1485.4" y="871.6"/><use href="#xm" x="1491.3" y="873.3"/><use href="#xm" x="1497.2" y="879.2"/><use href="#xm" x="1503.2" y="872.0"/><use href="#xm" x="1509.1" y="875.8"/><use href="#xm" x="1515.0" y="863.5"/><use href="#xm" x="1520.9" y="869.9"/><use href="#xm" x="1526.8" y="874.1"/><use href="#xm" x="1532.7" y="867.8"/><use href="#xm" x="1538.6" y="872.8"/><use href="#xm" x="1544.6" y="880.2"/><use href="#xm" x="1550.5" y="870.0"/><use href="#xm" x="1556.4" y="869.2"/><use href="#xm" x="1562.3" y="876.8"/><use href="#xm" x="1568.2" y="875.1"/><use href="#xm" x="1574.1" y="876.8"/><use href="#xm" x="1580.0" y="874.3"/><use href="#xm" x="1586.0" y="871.7"/><use href="#xm" x="1591.9" y="869.2"/><use href="#xm" x="1597.8" y="872.6"/><use href="#xm" x="1603.7" y="871.7"/><use href="#xm" x="1609.6" y="870.9"/><use href="#xm" x="1615.5" y="878.5"/><use href="#xm" x="1621.5" y="874.3"/><use href="#xm" x="1627.4" y="875.1"/><use href="#xm" x="1633.3" y="876.8"/><use href="#xm" x="1639.2" y="865.4"/><use href="#xm" x="1645.1" y="874.3"/><use href="#xm" x="1651.0" y="881.0"/><use href="#xm" x="1656.9" y="881.0"/><use href="#xm" x="1662.9" y="871.7"/>
</g>
<path d="M1402.3 773.6H1757.05V938.45H1402.3ZM1402.3 776.8h8.0M1402.3 857.6h8.0M1520.6 938.45v-8.0M1638.9 938.45v-8.0" fill="none" stroke="#111" stroke-width="1.4"/>
<text transform="translate(1402.30 960.55) scale(0.765 1)" font-size="24.4" text-anchor="middle" stroke="#000" stroke-width="0.5">0</text>
<text transform="translate(1520.60 960.55) scale(0.765 1)" font-size="24.4" text-anchor="middle" stroke="#000" stroke-width="0.5">100</text>
<text transform="translate(1638.90 960.55) scale(0.765 1)" font-size="24.4" text-anchor="middle" stroke="#000" stroke-width="0.5">200</text>
<text transform="translate(1757.20 960.55) scale(0.765 1)" font-size="24.4" text-anchor="middle" stroke="#000" stroke-width="0.5">300</text>
<text transform="translate(1396.50 947.05) scale(0.765 1)" font-size="24.4" text-anchor="end" stroke="#000" stroke-width="0.5">0</text>
<text transform="translate(1396.50 866.23) scale(0.765 1)" font-size="24.4" text-anchor="end" stroke="#000" stroke-width="0.5">5000</text>
<text transform="translate(1396.50 785.40) scale(0.765 1)" font-size="24.4" text-anchor="end" stroke="#000" stroke-width="0.5">10000</text>
<text x="1343.10" y="743.8" font-size="30.8" font-weight="bold">L</text>
<text transform="translate(1579.67 988.00) scale(0.765 1)" font-size="24.4" text-anchor="middle" stroke="#000" stroke-width="0.5">Time (min)</text>
</g>
</svg>
</body></html>
